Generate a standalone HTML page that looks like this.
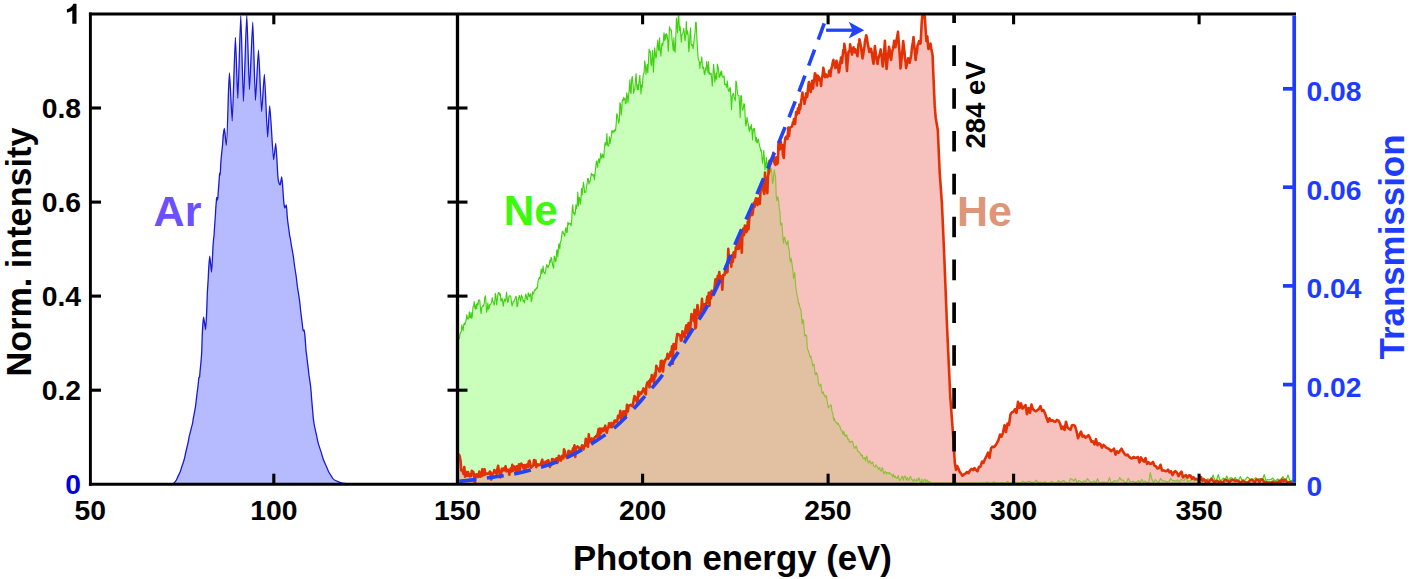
<!DOCTYPE html>
<html><head><meta charset="utf-8"><title>HHG spectra</title>
<style>
html,body{margin:0;padding:0;background:#fff;}
body{width:1412px;height:579px;overflow:hidden;}
svg{display:block;}
text{font-family:"Liberation Sans",sans-serif;font-weight:bold;}
</style></head><body>
<svg width="1412" height="579" viewBox="0 0 1412 579">
<defs><clipPath id="cp"><rect x="90" y="14" width="1205" height="470.2"/></clipPath></defs>
<rect width="1412" height="579" fill="#fff"/>
<g clip-path="url(#cp)">
<path d="M173.3,483.4C174.1,483.4 176.4,480.6 177.2,478.2C178.0,475.8 180.3,472.9 181.1,469.2C181.9,465.5 184.2,461.4 185.0,456.2C185.8,451.0 188.1,443.9 188.9,438.1C189.4,434.5 190.8,431.2 191.3,428.0C191.5,426.8 192.0,426.0 192.2,424.8C192.3,424.1 192.6,423.5 192.7,422.5C193.4,415.8 195.4,410.0 196.1,401.8C196.6,395.8 198.1,387.0 198.6,380.0C198.7,378.9 198.9,378.0 199.0,377.5C199.1,376.6 199.6,378.2 199.7,375.9C200.1,369.0 201.4,360.6 201.8,350.0C201.9,348.5 202.0,341.3 202.1,339.5C202.4,330.4 203.3,317.1 203.6,317.1C204.0,317.1 205.2,329.5 205.6,329.5C205.9,329.5 207.0,304.9 207.3,293.9C207.5,287.5 208.1,282.3 208.3,277.3C208.6,269.8 209.5,256.2 209.8,256.2C210.1,256.2 211.2,272.1 211.5,272.1C211.8,272.1 212.6,255.8 212.9,248.3C213.0,245.1 213.4,242.3 213.5,240.0C213.6,237.7 214.0,237.3 214.1,234.6C214.4,227.8 215.3,218.7 215.6,211.3C215.8,206.8 216.3,202.2 216.5,199.0C216.6,197.6 216.8,197.5 216.9,197.5C217.0,197.5 217.3,200.0 217.4,200.0C217.5,200.0 217.9,198.2 218.0,195.8C218.3,190.2 219.1,181.9 219.4,176.0C219.5,174.3 219.7,173.0 219.8,173.0C219.9,173.0 220.1,175.0 220.2,175.0C220.3,175.0 220.6,167.0 220.7,164.8C221.1,156.2 222.3,149.2 222.7,142.7C223.0,137.1 224.1,128.5 224.4,128.5C224.8,128.5 225.9,145.3 226.3,145.3C226.7,145.3 227.8,114.3 228.2,100.0C228.5,90.2 229.2,73.0 229.5,73.0C230.0,73.0 231.7,121.0 232.2,121.0C232.8,121.0 234.8,37.5 235.4,37.5C235.9,37.5 237.3,98.3 237.8,98.3C238.4,98.3 240.2,15.7 240.8,15.7C241.3,15.7 242.9,101.5 243.4,101.5C244.1,101.5 246.1,15.2 246.8,15.2C247.3,15.2 248.9,89.5 249.4,89.5C250.1,89.5 252.1,22.2 252.8,22.2C253.3,22.2 254.9,100.4 255.4,100.4C256.0,100.4 257.9,50.2 258.5,50.2C259.1,50.2 261.0,111.5 261.6,111.5C262.2,111.5 263.8,74.5 264.4,74.5C265.0,74.5 267.0,136.9 267.6,136.9C268.0,136.9 269.3,105.8 269.7,105.8C270.5,105.8 272.8,159.6 273.6,159.6C274.0,159.6 275.4,143.4 275.8,143.4C276.2,143.4 277.4,169.2 277.8,175.5C278.3,183.0 279.7,184.9 280.2,184.9C280.5,184.9 281.4,176.8 281.7,176.8C282.0,176.8 283.0,190.4 283.3,195.8C283.6,200.9 284.5,208.2 284.8,208.2C285.1,208.2 286.1,205.0 286.4,205.0C286.6,205.0 287.0,213.5 287.2,216.0C287.7,223.3 289.0,229.2 289.5,234.6C289.7,237.2 290.4,237.8 290.6,240.0C291.3,246.5 293.2,253.3 293.9,260.7C294.5,267.2 296.2,274.5 296.8,281.5C297.5,289.7 299.5,297.4 300.2,306.3C300.7,312.6 302.1,321.2 302.6,327.0C302.8,329.4 303.4,331.0 303.6,331.0C303.7,331.0 304.1,330.0 304.2,330.0C304.5,330.0 305.5,342.5 305.8,347.8C306.1,352.5 306.9,356.0 307.2,360.0C307.5,363.7 308.2,367.2 308.5,370.7C309.0,377.7 310.6,382.9 311.1,391.5C311.5,398.5 312.8,412.0 313.2,417.4C314.0,427.5 316.3,432.6 317.1,438.1C318.1,445.5 321.3,451.0 322.3,456.2C323.3,461.4 326.5,465.5 327.5,469.2C328.5,472.8 331.6,476.3 332.6,478.2C333.9,480.6 337.8,481.3 339.1,482.1C340.7,483.1 345.3,483.6 346.9,483.6 L346.9,484.2 L173.3,484.2 Z" fill="#b6baff" stroke="none"/>
<path d="M173.3,483.4C174.1,483.4 176.4,480.6 177.2,478.2C178.0,475.8 180.3,472.9 181.1,469.2C181.9,465.5 184.2,461.4 185.0,456.2C185.8,451.0 188.1,443.9 188.9,438.1C189.4,434.5 190.8,431.2 191.3,428.0C191.5,426.8 192.0,426.0 192.2,424.8C192.3,424.1 192.6,423.5 192.7,422.5C193.4,415.8 195.4,410.0 196.1,401.8C196.6,395.8 198.1,387.0 198.6,380.0C198.7,378.9 198.9,378.0 199.0,377.5C199.1,376.6 199.6,378.2 199.7,375.9C200.1,369.0 201.4,360.6 201.8,350.0C201.9,348.5 202.0,341.3 202.1,339.5C202.4,330.4 203.3,317.1 203.6,317.1C204.0,317.1 205.2,329.5 205.6,329.5C205.9,329.5 207.0,304.9 207.3,293.9C207.5,287.5 208.1,282.3 208.3,277.3C208.6,269.8 209.5,256.2 209.8,256.2C210.1,256.2 211.2,272.1 211.5,272.1C211.8,272.1 212.6,255.8 212.9,248.3C213.0,245.1 213.4,242.3 213.5,240.0C213.6,237.7 214.0,237.3 214.1,234.6C214.4,227.8 215.3,218.7 215.6,211.3C215.8,206.8 216.3,202.2 216.5,199.0C216.6,197.6 216.8,197.5 216.9,197.5C217.0,197.5 217.3,200.0 217.4,200.0C217.5,200.0 217.9,198.2 218.0,195.8C218.3,190.2 219.1,181.9 219.4,176.0C219.5,174.3 219.7,173.0 219.8,173.0C219.9,173.0 220.1,175.0 220.2,175.0C220.3,175.0 220.6,167.0 220.7,164.8C221.1,156.2 222.3,149.2 222.7,142.7C223.0,137.1 224.1,128.5 224.4,128.5C224.8,128.5 225.9,145.3 226.3,145.3C226.7,145.3 227.8,114.3 228.2,100.0C228.5,90.2 229.2,73.0 229.5,73.0C230.0,73.0 231.7,121.0 232.2,121.0C232.8,121.0 234.8,37.5 235.4,37.5C235.9,37.5 237.3,98.3 237.8,98.3C238.4,98.3 240.2,15.7 240.8,15.7C241.3,15.7 242.9,101.5 243.4,101.5C244.1,101.5 246.1,15.2 246.8,15.2C247.3,15.2 248.9,89.5 249.4,89.5C250.1,89.5 252.1,22.2 252.8,22.2C253.3,22.2 254.9,100.4 255.4,100.4C256.0,100.4 257.9,50.2 258.5,50.2C259.1,50.2 261.0,111.5 261.6,111.5C262.2,111.5 263.8,74.5 264.4,74.5C265.0,74.5 267.0,136.9 267.6,136.9C268.0,136.9 269.3,105.8 269.7,105.8C270.5,105.8 272.8,159.6 273.6,159.6C274.0,159.6 275.4,143.4 275.8,143.4C276.2,143.4 277.4,169.2 277.8,175.5C278.3,183.0 279.7,184.9 280.2,184.9C280.5,184.9 281.4,176.8 281.7,176.8C282.0,176.8 283.0,190.4 283.3,195.8C283.6,200.9 284.5,208.2 284.8,208.2C285.1,208.2 286.1,205.0 286.4,205.0C286.6,205.0 287.0,213.5 287.2,216.0C287.7,223.3 289.0,229.2 289.5,234.6C289.7,237.2 290.4,237.8 290.6,240.0C291.3,246.5 293.2,253.3 293.9,260.7C294.5,267.2 296.2,274.5 296.8,281.5C297.5,289.7 299.5,297.4 300.2,306.3C300.7,312.6 302.1,321.2 302.6,327.0C302.8,329.4 303.4,331.0 303.6,331.0C303.7,331.0 304.1,330.0 304.2,330.0C304.5,330.0 305.5,342.5 305.8,347.8C306.1,352.5 306.9,356.0 307.2,360.0C307.5,363.7 308.2,367.2 308.5,370.7C309.0,377.7 310.6,382.9 311.1,391.5C311.5,398.5 312.8,412.0 313.2,417.4C314.0,427.5 316.3,432.6 317.1,438.1C318.1,445.5 321.3,451.0 322.3,456.2C323.3,461.4 326.5,465.5 327.5,469.2C328.5,472.8 331.6,476.3 332.6,478.2C333.9,480.6 337.8,481.3 339.1,482.1C340.7,483.1 345.3,483.6 346.9,483.6" fill="none" stroke="#1a1ad0" stroke-width="1.3" stroke-linejoin="round"/>
<path d="M457.5,349.2 L458.1,343.1 L458.7,338.8 L459.4,338.8 L460.0,334.1 L460.6,332.5 L461.2,332.0 L461.8,324.9 L462.5,328.4 L463.1,330.6 L463.7,325.0 L464.3,323.0 L464.9,324.6 L465.6,322.2 L466.2,319.7 L466.8,314.9 L467.4,318.0 L468.0,319.3 L468.7,318.1 L469.3,311.7 L469.9,317.6 L470.5,317.6 L471.1,312.4 L471.8,318.4 L472.4,315.4 L473.0,306.5 L473.6,306.5 L474.2,301.6 L474.9,308.2 L475.5,308.8 L476.1,304.4 L476.7,308.9 L477.3,303.0 L478.0,305.0 L478.6,300.3 L479.2,299.9 L479.8,300.5 L480.4,308.0 L481.1,313.7 L481.7,307.3 L482.3,307.0 L482.9,305.6 L483.5,306.1 L484.2,303.1 L484.8,297.4 L485.4,295.7 L486.0,302.2 L486.6,312.2 L487.3,309.1 L487.9,302.8 L488.5,309.2 L489.1,308.1 L489.7,304.5 L490.4,304.7 L491.0,303.6 L491.6,302.2 L492.2,297.6 L492.8,301.4 L493.5,302.5 L494.1,305.1 L494.7,301.8 L495.3,293.3 L495.9,295.9 L496.6,304.8 L497.2,300.7 L497.8,294.6 L498.4,292.6 L499.0,292.5 L499.7,295.3 L500.3,293.8 L500.9,301.1 L501.5,300.2 L502.1,298.1 L502.8,303.3 L503.4,306.1 L504.0,300.4 L504.6,299.0 L505.2,301.4 L505.9,299.0 L506.5,292.0 L507.1,297.1 L507.7,302.5 L508.3,301.4 L509.0,296.0 L509.6,295.9 L510.2,295.9 L510.8,296.2 L511.4,302.1 L512.1,305.9 L512.7,303.5 L513.3,301.5 L513.9,301.8 L514.5,299.8 L515.2,298.4 L515.8,296.4 L516.4,297.4 L517.0,306.4 L517.6,306.2 L518.3,299.6 L518.9,297.0 L519.5,295.5 L520.1,299.0 L520.7,301.3 L521.4,294.7 L522.0,297.3 L522.6,297.0 L523.2,301.3 L523.8,300.4 L524.5,302.8 L525.1,298.0 L525.7,294.0 L526.3,295.9 L526.9,299.4 L527.6,299.5 L528.2,292.7 L528.8,294.3 L529.4,296.7 L530.0,295.1 L530.7,293.8 L531.3,301.7 L531.9,299.3 L532.5,291.8 L533.1,294.1 L533.8,293.3 L534.4,289.8 L535.0,290.5 L535.6,290.0 L536.2,287.9 L536.9,288.7 L537.5,286.4 L538.1,280.8 L538.7,278.8 L539.3,277.6 L540.0,278.8 L540.6,274.9 L541.2,268.9 L541.8,273.5 L542.4,271.6 L543.1,266.0 L543.7,272.2 L544.3,272.3 L544.9,273.8 L545.5,271.8 L546.2,266.9 L546.8,264.5 L547.4,266.2 L548.0,267.9 L548.6,265.2 L549.3,264.9 L549.9,260.1 L550.5,262.1 L551.1,257.4 L551.7,258.4 L552.4,264.0 L553.0,266.3 L553.6,268.3 L554.2,256.0 L554.8,256.7 L555.5,261.8 L556.1,260.2 L556.7,250.6 L557.3,249.9 L557.9,256.9 L558.6,245.1 L559.2,243.7 L559.8,249.0 L560.4,241.5 L561.0,240.8 L561.7,235.8 L562.3,231.8 L562.9,231.1 L563.5,233.9 L564.1,233.9 L564.8,236.3 L565.4,229.6 L566.0,227.3 L566.6,232.5 L567.2,232.2 L567.9,222.1 L568.5,224.7 L569.1,223.4 L569.7,223.1 L570.3,223.5 L571.0,225.8 L571.6,221.7 L572.2,209.0 L572.8,204.7 L573.4,213.4 L574.1,212.7 L574.7,214.9 L575.3,213.0 L575.9,204.8 L576.5,208.8 L577.2,203.7 L577.8,192.1 L578.4,206.2 L579.0,197.5 L579.6,197.6 L580.3,204.3 L580.9,200.2 L581.5,188.6 L582.1,195.0 L582.7,189.4 L583.4,182.2 L584.0,185.8 L584.6,192.5 L585.2,192.1 L585.8,192.1 L586.5,186.5 L587.1,183.3 L587.7,178.4 L588.3,178.6 L588.9,184.0 L589.6,181.1 L590.2,181.3 L590.8,177.2 L591.4,173.2 L592.0,175.1 L592.7,174.3 L593.3,176.1 L593.9,174.8 L594.5,179.9 L595.1,173.3 L595.8,166.4 L596.4,161.0 L597.0,162.6 L597.6,167.4 L598.2,160.8 L598.9,158.7 L599.5,162.9 L600.1,159.3 L600.7,153.4 L601.3,158.3 L602.0,156.5 L602.6,154.0 L603.2,157.3 L603.8,157.8 L604.4,148.5 L605.1,142.3 L605.7,145.3 L606.3,144.7 L606.9,133.6 L607.5,144.2 L608.2,146.2 L608.8,145.5 L609.4,136.9 L610.0,143.4 L610.6,140.1 L611.3,136.4 L611.9,130.2 L612.5,131.9 L613.1,132.9 L613.7,130.6 L614.4,131.7 L615.0,129.3 L615.6,130.7 L616.2,123.4 L616.8,113.7 L617.5,115.2 L618.1,119.7 L618.7,123.1 L619.3,120.5 L619.9,102.7 L620.6,104.4 L621.2,115.2 L621.8,108.8 L622.4,99.5 L623.0,100.9 L623.7,97.4 L624.3,99.8 L624.9,98.2 L625.5,103.8 L626.1,103.0 L626.8,92.9 L627.4,96.4 L628.0,102.4 L628.6,94.6 L629.2,90.3 L629.9,79.7 L630.5,92.0 L631.1,93.6 L631.7,78.8 L632.3,76.5 L633.0,83.5 L633.6,93.1 L634.2,90.1 L634.8,89.4 L635.4,80.9 L636.1,73.6 L636.7,85.2 L637.3,89.6 L637.9,84.5 L638.5,89.8 L639.2,80.2 L639.8,75.2 L640.4,84.9 L641.0,93.9 L641.6,84.9 L642.3,87.2 L642.9,77.6 L643.5,74.0 L644.1,72.5 L644.7,60.7 L645.4,65.5 L646.0,74.4 L646.6,68.6 L647.2,64.3 L647.8,72.7 L648.5,60.6 L649.1,49.0 L649.7,52.5 L650.3,51.2 L650.9,64.1 L651.6,65.7 L652.2,53.9 L652.8,50.4 L653.4,72.1 L654.0,61.9 L654.7,47.9 L655.3,53.2 L655.9,58.2 L656.5,55.9 L657.1,46.5 L657.8,40.1 L658.4,49.4 L659.0,50.7 L659.6,37.7 L660.2,49.2 L660.9,56.1 L661.5,47.6 L662.1,43.2 L662.7,45.7 L663.3,40.9 L664.0,32.8 L664.6,40.5 L665.2,34.6 L665.8,39.3 L666.4,33.5 L667.1,35.2 L667.7,39.5 L668.3,51.3 L668.9,39.6 L669.5,26.7 L670.2,30.0 L670.8,29.4 L671.4,30.8 L672.0,38.9 L672.6,44.5 L673.3,50.8 L673.9,37.9 L674.5,50.3 L675.1,52.2 L675.7,40.4 L676.4,18.2 L677.0,24.2 L677.6,32.6 L678.2,17.0 L678.8,15.5 L679.5,30.5 L680.1,26.3 L680.7,33.9 L681.3,42.2 L681.9,34.5 L682.6,34.3 L683.2,31.7 L683.8,28.3 L684.4,34.0 L685.0,40.6 L685.7,35.7 L686.3,21.6 L686.9,34.2 L687.5,30.8 L688.1,34.5 L688.8,51.8 L689.4,46.8 L690.0,33.2 L690.6,27.8 L691.2,44.2 L691.9,45.8 L692.5,44.7 L693.1,48.9 L693.7,43.6 L694.3,38.1 L695.0,32.7 L695.6,22.6 L696.2,22.3 L696.8,36.5 L697.4,47.6 L698.1,57.4 L698.7,59.8 L699.3,61.7 L699.9,68.5 L700.5,62.3 L701.2,62.1 L701.8,56.7 L702.4,66.7 L703.0,68.7 L703.6,67.0 L704.3,73.9 L704.9,74.7 L705.5,67.7 L706.1,70.5 L706.7,61.5 L707.4,66.9 L708.0,72.6 L708.6,61.6 L709.2,74.2 L709.8,72.6 L710.5,74.7 L711.1,73.4 L711.7,78.9 L712.3,86.3 L712.9,75.1 L713.6,64.3 L714.2,70.9 L714.8,81.9 L715.4,78.3 L716.0,73.2 L716.7,79.4 L717.3,64.1 L717.9,66.1 L718.5,69.3 L719.1,77.3 L719.8,77.2 L720.4,71.8 L721.0,75.1 L721.6,71.1 L722.2,76.2 L722.9,77.1 L723.5,76.8 L724.1,75.9 L724.7,84.6 L725.3,84.0 L726.0,84.5 L726.6,87.1 L727.2,80.8 L727.8,86.1 L728.4,90.9 L729.1,91.4 L729.7,88.6 L730.3,87.6 L730.9,96.1 L731.5,109.5 L732.2,96.4 L732.8,94.3 L733.4,93.3 L734.0,96.9 L734.6,98.4 L735.3,100.7 L735.9,81.0 L736.5,82.7 L737.1,89.2 L737.7,94.6 L738.4,95.5 L739.0,95.6 L739.6,104.9 L740.2,117.4 L740.8,95.7 L741.5,96.1 L742.1,108.7 L742.7,110.2 L743.3,108.4 L743.9,103.6 L744.6,104.7 L745.2,117.1 L745.8,126.0 L746.4,123.6 L747.0,117.4 L747.7,121.5 L748.3,124.4 L748.9,129.5 L749.5,131.4 L750.1,126.5 L750.8,129.1 L751.4,124.6 L752.0,131.6 L752.6,139.9 L753.2,128.8 L753.9,130.6 L754.5,128.3 L755.1,135.5 L755.7,141.2 L756.3,137.3 L757.0,143.0 L757.6,141.7 L758.2,139.0 L758.8,141.5 L759.4,145.6 L760.1,147.5 L760.7,150.9 L761.3,149.9 L761.9,156.3 L762.5,163.1 L763.2,157.7 L763.8,150.3 L764.4,160.0 L765.0,169.7 L765.6,165.5 L766.3,157.3 L766.9,163.0 L767.5,174.5 L768.1,162.3 L768.7,165.5 L769.4,169.2 L770.0,165.6 L770.6,172.1 L771.2,168.5 L771.8,172.8 L772.5,183.4 L773.1,182.1 L773.7,175.4 L774.3,169.7 L774.9,173.8 L775.6,177.0 L776.2,195.9 L776.8,200.6 L777.4,196.7 L778.0,197.4 L778.7,201.6 L779.3,209.2 L779.9,210.6 L780.5,224.7 L781.1,225.2 L781.8,223.0 L782.4,230.6 L783.0,239.5 L783.6,243.3 L784.2,237.2 L784.9,237.7 L785.5,240.6 L786.1,243.5 L786.7,244.9 L787.3,242.1 L788.0,240.9 L788.6,248.6 L789.2,249.2 L789.8,258.8 L790.4,261.9 L791.1,258.1 L791.7,261.9 L792.3,266.0 L792.9,270.4 L793.5,278.4 L794.2,275.3 L794.8,272.5 L795.4,282.7 L796.0,288.5 L796.6,292.0 L797.3,296.9 L797.9,298.6 L798.5,303.9 L799.1,303.4 L799.7,306.7 L800.4,308.8 L801.0,309.6 L801.6,317.8 L802.2,324.0 L802.8,319.5 L803.5,320.7 L804.1,328.8 L804.7,336.0 L805.3,334.6 L805.9,335.7 L806.6,335.5 L807.2,347.1 L807.8,350.1 L808.4,350.5 L809.0,352.9 L809.7,355.6 L810.3,357.2 L810.9,356.2 L811.5,359.7 L812.1,361.6 L812.8,365.9 L813.4,364.5 L814.0,364.1 L814.6,369.5 L815.2,374.8 L815.9,374.7 L816.5,372.5 L817.1,374.4 L817.7,375.8 L818.3,382.6 L819.0,385.0 L819.6,386.0 L820.2,385.7 L820.8,384.0 L821.4,388.4 L822.1,393.3 L822.7,393.0 L823.3,391.8 L823.9,395.0 L824.5,394.7 L825.2,397.0 L825.8,396.7 L826.4,395.9 L827.0,400.5 L827.6,403.4 L828.3,407.9 L828.9,406.7 L829.5,406.4 L830.1,405.9 L830.7,404.7 L831.4,406.0 L832.0,411.8 L832.6,412.3 L833.2,416.1 L833.8,420.3 L834.5,418.4 L835.1,421.3 L835.7,421.8 L836.3,423.0 L836.9,422.5 L837.6,424.4 L838.2,423.2 L838.8,425.2 L839.4,425.9 L840.0,426.5 L840.7,429.3 L841.3,430.3 L841.9,430.5 L842.5,432.7 L843.1,434.4 L843.8,431.4 L844.4,433.5 L845.0,436.3 L845.6,434.8 L846.2,436.1 L846.9,435.1 L847.5,438.9 L848.1,439.5 L848.7,438.9 L849.3,442.0 L850.0,441.7 L850.6,442.5 L851.2,441.2 L851.8,441.3 L852.4,441.2 L853.1,443.1 L853.7,446.9 L854.3,447.4 L854.9,448.4 L855.5,446.7 L856.2,446.0 L856.8,447.5 L857.4,450.2 L858.0,451.5 L858.6,451.4 L859.3,452.8 L859.9,452.9 L860.5,453.1 L861.1,455.9 L861.7,454.9 L862.4,455.2 L863.0,458.7 L863.6,458.3 L864.2,458.4 L864.8,457.6 L865.5,460.8 L866.1,457.4 L866.7,456.1 L867.3,457.7 L867.9,462.1 L868.6,463.0 L869.2,461.7 L869.8,460.4 L870.4,462.4 L871.0,463.9 L871.7,463.2 L872.3,462.0 L872.9,462.5 L873.5,465.2 L874.1,466.7 L874.8,466.8 L875.4,466.7 L876.0,464.7 L876.6,466.3 L877.2,466.6 L877.9,467.6 L878.5,469.3 L879.1,468.5 L879.7,467.6 L880.3,470.3 L881.0,471.3 L881.6,470.0 L882.2,467.5 L882.8,469.0 L883.4,472.4 L884.1,473.9 L884.7,472.3 L885.3,471.4 L885.9,472.1 L886.5,474.1 L887.2,472.6 L887.8,472.7 L888.4,472.7 L889.0,473.8 L889.6,472.5 L890.3,473.9 L890.9,474.3 L891.5,474.2 L892.1,475.6 L892.7,477.0 L893.4,474.1 L894.0,475.7 L894.6,477.2 L895.2,476.0 L895.8,477.7 L896.5,477.6 L897.1,478.3 L897.7,477.0 L898.3,475.5 L898.9,478.1 L899.6,480.6 L900.2,479.8 L900.8,479.3 L901.4,478.0 L902.0,476.2 L902.7,477.1 L903.3,480.1 L903.9,477.3 L904.5,476.7 L905.1,476.1 L905.8,477.6 L906.4,480.0 L907.0,478.1 L907.6,477.8 L908.2,480.5 L908.9,480.1 L909.5,477.8 L910.1,477.1 L910.7,476.4 L911.3,479.2 L912.0,479.4 L912.6,480.6 L913.2,481.7 L913.8,479.9 L914.4,479.1 L915.1,480.8 L915.7,481.0 L916.3,480.9 L916.9,478.8 L917.5,480.6 L918.2,480.3 L918.8,477.7 L919.4,478.7 L920.0,481.0 L920.6,483.0 L921.3,481.9 L921.9,479.1 L922.5,482.6 L923.1,482.6 L923.7,480.8 L924.4,479.6 L925.0,479.1 L925.6,482.1 L926.2,481.7 L926.8,480.3 L927.5,480.1 L928.1,482.6 L928.7,481.5 L929.3,481.5 L929.9,481.9 L931.0,483.0 L932.7,483.0 L934.4,483.0 L936.1,482.9 L937.8,483.0 L939.5,483.0 L941.2,483.0 L942.9,483.0 L944.6,483.0 L946.3,483.0 L948.0,483.0 L949.7,483.0 L951.4,483.0 L953.1,483.0 L954.8,483.0 L956.5,482.8 L958.2,483.0 L959.9,483.0 L961.6,483.0 L963.3,483.0 L965.0,483.0 L966.7,483.0 L968.4,483.0 L970.1,483.0 L971.8,483.0 L973.5,483.0 L975.2,483.0 L976.9,483.0 L978.6,483.0 L980.3,483.0 L982.0,482.7 L983.7,483.0 L985.4,483.0 L987.1,482.1 L988.8,483.0 L990.5,483.0 L992.2,483.0 L993.9,481.7 L995.6,482.9 L997.3,483.0 L999.0,483.0 L1000.7,483.0 L1002.4,482.4 L1004.1,483.0 L1005.8,482.7 L1007.5,481.3 L1009.2,483.0 L1010.9,482.9 L1012.6,481.9 L1014.3,482.3 L1016.0,483.0 L1017.7,482.8 L1019.4,482.9 L1021.1,483.0 L1022.8,481.3 L1024.5,482.2 L1026.2,482.4 L1027.9,481.5 L1029.6,481.2 L1031.3,482.5 L1033.0,482.2 L1034.7,481.9 L1036.4,480.1 L1038.1,483.0 L1039.8,482.1 L1041.5,482.3 L1043.2,483.0 L1044.9,481.8 L1046.6,483.0 L1048.3,483.0 L1050.0,483.0 L1051.7,481.4 L1053.4,482.7 L1055.1,483.0 L1056.8,483.0 L1058.5,480.4 L1060.2,482.5 L1061.9,481.6 L1063.6,480.4 L1065.3,482.0 L1067.0,482.7 L1068.7,483.0 L1070.4,478.6 L1072.1,479.2 L1073.8,480.9 L1075.5,478.6 L1077.2,483.0 L1078.9,480.4 L1080.6,481.4 L1082.3,482.7 L1084.0,480.8 L1085.7,481.8 L1087.4,478.6 L1089.1,480.6 L1090.8,482.4 L1092.5,481.8 L1094.2,480.9 L1095.9,483.0 L1097.6,478.6 L1099.3,482.8 L1101.0,482.6 L1102.7,482.0 L1104.4,482.1 L1106.1,482.9 L1107.8,482.1 L1109.5,477.6 L1111.2,482.9 L1112.9,482.0 L1114.6,480.5 L1116.3,481.3 L1118.0,480.9 L1119.7,477.6 L1121.4,479.9 L1123.1,480.2 L1124.8,482.3 L1126.5,482.6 L1128.2,478.3 L1129.9,481.6 L1131.6,481.7 L1133.3,481.2 L1135.0,482.5 L1136.7,482.1 L1138.4,480.7 L1140.1,482.5 L1141.8,479.2 L1143.5,482.2 L1145.2,480.8 L1146.9,482.8 L1148.6,482.6 L1150.3,472.6 L1152.0,479.6 L1153.7,482.6 L1155.4,479.5 L1157.1,481.4 L1158.8,482.2 L1160.5,478.4 L1162.2,480.7 L1163.9,480.7 L1165.6,481.2 L1167.3,481.9 L1169.0,481.5 L1170.7,478.3 L1172.4,480.8 L1174.1,480.5 L1175.8,481.3 L1177.5,480.0 L1179.2,481.9 L1180.9,479.5 L1182.6,480.1 L1184.3,480.3 L1186.0,476.5 L1187.7,481.1 L1189.4,481.1 L1191.1,480.1 L1192.8,477.7 L1194.5,481.2 L1196.2,479.2 L1197.9,478.7 L1199.6,479.5 L1201.3,478.2 L1203.0,477.7 L1204.7,479.5 L1206.4,479.6 L1208.1,478.8 L1209.8,480.8 L1211.5,479.4 L1213.2,474.9 L1214.9,480.8 L1216.6,479.6 L1218.3,474.6 L1220.0,480.5 L1221.7,479.9 L1223.4,478.2 L1225.1,480.3 L1226.8,476.0 L1228.5,480.3 L1230.2,477.9 L1231.9,477.7 L1233.6,480.8 L1235.3,477.3 L1237.0,480.7 L1238.7,479.7 L1240.4,476.6 L1242.1,480.5 L1243.8,480.7 L1245.5,479.4 L1247.2,477.0 L1248.9,478.2 L1250.6,480.0 L1252.3,479.3 L1254.0,479.1 L1255.7,477.6 L1257.4,479.5 L1259.1,478.5 L1260.8,480.0 L1262.5,479.3 L1264.2,474.6 L1265.9,480.5 L1267.6,479.6 L1269.3,479.8 L1271.0,479.5 L1272.7,478.0 L1274.4,480.2 L1276.1,480.7 L1277.8,479.0 L1279.5,480.5 L1281.2,478.5 L1282.9,476.6 L1284.6,480.3 L1286.3,479.6 L1288.0,474.9 L1289.7,480.2 L1291.4,480.8 L1293.1,480.0 L1293.1,484.2 L457.5,484.2 Z" fill="#c9ffbb" stroke="none"/>
<path d="M458.3,456.0 L459.1,454.8 L459.8,456.4 L460.6,461.5 L461.3,470.5 L462.1,469.8 L462.8,471.7 L463.6,474.0 L464.3,467.0 L465.1,476.6 L465.8,471.9 L466.6,473.8 L467.3,475.7 L468.1,472.0 L468.8,474.9 L469.6,476.3 L470.3,474.6 L471.1,476.1 L471.8,470.9 L472.6,471.9 L473.3,471.9 L474.1,475.6 L474.8,483.8 L475.6,475.3 L476.3,474.2 L477.1,474.4 L477.8,476.9 L478.6,476.2 L479.3,471.6 L480.1,476.8 L480.8,474.3 L481.6,476.2 L482.3,469.2 L483.1,470.1 L483.8,475.2 L484.6,469.2 L485.3,474.4 L486.1,474.1 L486.8,473.5 L487.6,473.9 L488.3,473.5 L489.1,473.8 L489.8,471.5 L490.6,472.3 L491.3,479.5 L492.1,475.0 L492.8,473.6 L493.6,473.0 L494.3,470.1 L495.1,472.4 L495.8,471.2 L496.6,474.1 L497.3,469.4 L498.1,465.7 L498.8,470.1 L499.6,473.2 L500.3,477.5 L501.1,473.8 L501.8,468.8 L502.6,470.5 L503.3,468.5 L504.1,470.3 L504.8,468.3 L505.6,466.3 L506.3,471.4 L507.1,470.6 L507.8,469.6 L508.6,470.7 L509.3,474.8 L510.1,469.8 L510.8,468.4 L511.6,471.4 L512.3,464.9 L513.0,470.8 L513.8,466.8 L514.5,466.6 L515.3,468.7 L516.0,472.6 L516.8,466.3 L517.5,470.4 L518.3,468.8 L519.0,464.2 L519.8,469.9 L520.5,465.3 L521.3,463.5 L522.0,465.1 L522.8,465.1 L523.5,468.4 L524.3,465.0 L525.0,470.6 L525.8,467.2 L526.5,464.8 L527.3,464.4 L528.0,467.1 L528.8,461.2 L529.5,460.7 L530.3,464.0 L531.0,467.8 L531.8,466.6 L532.5,466.1 L533.3,465.3 L534.0,460.0 L534.8,464.6 L535.5,460.6 L536.3,467.1 L537.0,464.7 L537.8,464.3 L538.5,465.4 L539.3,464.9 L540.0,464.5 L540.8,464.6 L541.5,461.9 L542.3,459.7 L543.0,463.9 L543.8,466.6 L544.5,465.3 L545.3,461.9 L546.0,463.9 L546.8,461.0 L547.5,463.0 L548.3,460.3 L549.0,462.1 L549.8,466.9 L550.5,463.5 L551.3,465.2 L552.0,459.1 L552.8,459.1 L553.5,460.7 L554.3,462.0 L555.0,459.7 L555.8,462.6 L556.5,458.2 L557.3,463.0 L558.0,461.6 L558.8,455.8 L559.5,460.0 L560.3,457.6 L561.0,460.6 L561.8,456.1 L562.5,458.1 L563.3,458.5 L564.0,449.2 L564.8,451.2 L565.5,456.3 L566.3,455.2 L567.0,458.0 L567.8,455.4 L568.5,450.9 L569.3,455.0 L570.0,451.6 L570.8,452.7 L571.5,451.5 L572.3,453.5 L573.0,448.2 L573.8,448.7 L574.5,445.2 L575.3,457.0 L576.0,447.7 L576.8,447.6 L577.5,446.3 L578.3,447.3 L579.0,447.5 L579.8,450.0 L580.5,448.3 L581.3,448.3 L582.0,445.2 L582.8,446.2 L583.5,449.5 L584.3,445.5 L585.0,445.9 L585.8,438.7 L586.5,445.5 L587.3,444.2 L588.0,446.7 L588.8,434.4 L589.5,442.0 L590.3,441.0 L591.0,441.1 L591.8,438.4 L592.5,440.4 L593.3,441.3 L594.0,438.8 L594.8,437.3 L595.5,437.0 L596.3,435.8 L597.0,436.5 L597.8,433.6 L598.5,429.1 L599.3,438.7 L600.0,428.6 L600.8,433.0 L601.5,428.7 L602.3,431.2 L603.0,428.5 L603.8,430.8 L604.5,427.7 L605.3,425.7 L606.0,430.1 L606.8,432.7 L607.5,429.0 L608.3,427.7 L609.0,423.4 L609.8,425.9 L610.5,426.9 L611.3,422.9 L612.0,427.2 L612.8,423.6 L613.5,424.3 L614.3,421.0 L615.0,420.4 L615.8,422.1 L616.5,421.9 L617.3,421.0 L618.0,415.8 L618.8,415.9 L619.5,417.5 L620.3,410.7 L621.0,419.6 L621.8,416.4 L622.5,414.7 L623.3,411.4 L624.0,415.8 L624.8,411.4 L625.5,418.0 L626.3,412.1 L627.0,404.8 L627.8,411.5 L628.5,406.3 L629.3,405.4 L630.0,405.5 L630.8,404.9 L631.5,405.4 L632.3,406.2 L633.0,404.3 L633.8,399.2 L634.5,396.1 L635.3,397.1 L636.0,400.3 L636.8,401.3 L637.5,403.8 L638.3,391.7 L639.0,396.0 L639.8,394.0 L640.5,392.6 L641.3,393.7 L642.0,391.5 L642.8,390.6 L643.5,388.4 L644.3,391.4 L645.0,393.0 L645.8,394.4 L646.5,385.5 L647.3,382.6 L648.0,384.5 L648.8,381.2 L649.5,387.3 L650.3,379.2 L651.0,381.5 L651.8,375.0 L652.5,377.8 L653.3,378.8 L654.0,383.0 L654.8,373.3 L655.5,376.4 L656.3,365.7 L657.0,368.0 L657.8,368.5 L658.5,368.7 L659.3,371.4 L660.0,371.2 L660.8,361.1 L661.5,368.6 L662.3,360.7 L663.0,371.5 L663.8,364.1 L664.5,362.3 L665.3,359.7 L666.0,359.1 L666.8,358.0 L667.5,353.9 L668.3,358.8 L669.0,355.6 L669.8,356.4 L670.5,351.7 L671.3,353.7 L672.0,346.3 L672.8,363.8 L673.5,344.1 L674.3,344.1 L675.0,349.0 L675.8,349.0 L676.5,338.9 L677.3,334.0 L678.0,334.1 L678.8,334.8 L679.5,334.7 L680.3,336.4 L681.0,340.7 L681.8,339.9 L682.5,331.2 L683.3,335.4 L684.0,335.9 L684.8,337.3 L685.5,329.1 L686.3,325.3 L687.0,331.2 L687.8,333.7 L688.5,323.1 L689.3,333.7 L690.0,331.6 L690.8,321.2 L691.5,314.0 L692.3,317.5 L693.0,317.8 L693.8,321.1 L694.5,309.7 L695.3,328.4 L696.0,327.1 L696.8,311.5 L697.5,305.0 L698.3,312.3 L699.0,314.3 L699.8,317.9 L700.5,313.9 L701.3,308.5 L702.0,298.9 L702.8,310.3 L703.5,311.0 L704.3,304.4 L705.0,306.4 L705.8,305.1 L706.5,302.0 L707.3,296.5 L708.0,302.9 L708.8,292.7 L709.5,305.6 L710.3,292.6 L711.0,298.3 L711.8,290.7 L712.5,295.1 L713.3,290.7 L714.0,293.2 L714.8,284.9 L715.5,279.2 L716.3,284.9 L717.0,283.2 L717.8,275.7 L718.5,278.7 L719.3,272.0 L720.0,280.2 L720.8,276.3 L721.5,277.0 L722.3,289.7 L723.0,275.1 L723.8,275.0 L724.5,275.0 L725.3,269.5 L726.0,265.7 L726.8,272.5 L727.5,272.0 L728.3,248.7 L729.0,262.8 L729.8,260.4 L730.5,257.8 L731.3,266.7 L732.0,255.3 L732.8,262.0 L733.5,252.6 L734.3,252.1 L735.0,257.3 L735.8,247.4 L736.5,249.0 L737.3,241.7 L738.0,241.2 L738.8,248.8 L739.5,246.3 L740.3,234.2 L741.0,232.2 L741.8,252.7 L742.5,231.8 L743.3,228.6 L744.0,235.2 L744.8,225.6 L745.5,226.2 L746.3,232.1 L747.0,230.9 L747.8,221.6 L748.5,229.3 L749.3,218.2 L750.0,215.7 L750.8,215.3 L751.5,211.5 L752.3,214.9 L753.0,211.5 L753.8,202.8 L754.5,207.0 L755.3,200.5 L756.0,198.3 L756.8,199.3 L757.5,205.1 L758.3,198.5 L759.0,203.4 L759.8,203.7 L760.5,191.4 L761.3,185.9 L762.0,182.9 L762.8,188.4 L763.5,190.7 L764.3,193.9 L765.0,172.5 L765.8,186.1 L766.5,185.4 L767.3,193.2 L768.0,176.0 L768.8,172.8 L769.5,160.7 L770.3,164.3 L771.0,160.5 L771.8,159.7 L772.5,158.9 L773.3,152.9 L774.0,161.7 L774.8,163.6 L775.5,164.8 L776.3,157.2 L777.0,164.0 L777.8,162.6 L778.5,142.4 L779.3,149.9 L780.0,141.3 L780.8,141.7 L781.5,148.7 L782.3,145.0 L783.0,155.1 L783.8,157.9 L784.5,144.2 L785.3,138.1 L786.0,136.8 L786.8,136.2 L787.5,139.0 L788.3,127.6 L789.0,136.0 L789.8,128.1 L792.1,126.2 L792.9,122.5 L793.7,121.4 L794.0,119.0 L794.5,123.8 L795.0,124.1 L795.3,121.6 L796.1,112.0 L796.2,114.0 L796.9,114.5 L797.7,110.5 L798.0,108.2 L798.5,112.2 L799.0,112.9 L799.3,104.7 L800.1,109.3 L800.9,103.2 L801.7,98.0 L802.4,92.6 L802.5,94.0 L803.3,98.8 L804.1,98.2 L804.5,103.8 L804.9,100.8 L805.7,98.4 L806.0,93.5 L806.5,94.7 L807.0,97.1 L807.3,96.0 L808.1,88.1 L808.7,82.9 L808.9,82.1 L809.7,85.1 L810.5,90.7 L810.7,92.0 L811.3,87.2 L812.0,84.3 L812.1,80.9 L812.9,85.0 L813.0,88.5 L813.7,81.9 L814.5,77.2 L814.9,73.4 L815.3,73.5 L816.1,78.1 L816.9,85.4 L817.0,82.3 L817.7,75.6 L818.5,77.1 L818.5,76.6 L819.3,80.3 L820.1,78.7 L820.9,83.9 L821.1,86.0 L821.7,78.5 L822.5,75.8 L823.2,69.6 L823.3,67.7 L824.1,71.7 L824.9,77.1 L825.0,75.8 L825.7,74.2 L826.5,76.3 L827.3,76.6 L827.3,77.1 L828.1,75.9 L828.9,74.1 L829.0,71.0 L829.7,70.5 L830.5,76.1 L830.5,73.8 L831.3,68.9 L832.1,66.0 L832.9,61.7 L833.5,59.9 L833.7,64.8 L834.5,62.7 L835.0,66.3 L835.3,68.1 L836.1,63.6 L836.5,60.8 L836.9,61.8 L837.7,65.9 L838.5,70.1 L838.7,72.5 L839.3,70.8 L840.1,63.4 L840.9,59.1 L841.0,57.6 L841.7,63.2 L842.0,62.9 L842.5,57.5 L843.3,49.9 L844.1,49.6 L844.3,43.9 L844.9,47.4 L845.7,53.6 L846.5,64.6 L847.0,70.9 L847.3,65.5 L848.1,56.5 L848.5,51.7 L848.9,51.9 L849.7,50.1 L850.1,44.4 L850.5,46.8 L851.3,51.1 L852.0,54.6 L852.1,52.0 L852.9,52.2 L853.5,47.2 L853.7,49.1 L854.5,52.1 L855.3,49.3 L856.1,52.6 L856.3,51.3 L856.9,53.7 L857.5,56.3 L857.7,54.0 L858.5,43.9 L859.3,43.4 L859.4,39.2 L860.1,42.2 L860.9,45.9 L861.7,52.9 L862.5,58.4 L862.5,58.0 L863.3,54.2 L864.1,48.0 L864.5,46.2 L864.9,41.9 L865.7,38.4 L866.2,35.2 L866.5,36.0 L867.3,40.7 L868.1,45.3 L868.9,49.6 L869.3,52.0 L869.7,49.9 L870.5,51.2 L871.0,48.7 L871.3,50.2 L872.1,54.9 L872.9,60.3 L873.5,63.8 L873.7,61.8 L874.5,50.7 L874.9,46.0 L875.3,49.3 L876.0,55.0 L876.1,56.0 L876.9,60.7 L877.6,63.9 L877.7,62.3 L878.5,58.1 L879.0,56.1 L879.3,55.8 L880.1,52.3 L880.7,49.4 L880.9,51.6 L881.7,56.9 L882.5,64.0 L882.8,66.5 L883.3,61.3 L884.1,52.0 L884.9,40.8 L884.9,41.2 L885.7,53.4 L886.5,68.5 L886.6,69.0 L887.3,61.5 L888.1,55.1 L888.9,48.5 L889.0,46.7 L889.7,50.1 L890.5,57.3 L891.1,59.9 L891.3,58.4 L892.1,51.3 L892.5,50.5 L892.9,49.0 L893.7,44.5 L894.2,40.8 L894.5,43.1 L895.3,47.3 L895.5,46.9 L896.1,43.2 L896.9,38.1 L897.7,34.3 L898.0,31.8 L898.5,38.8 L899.3,49.3 L900.1,60.7 L900.5,68.4 L900.9,65.8 L901.7,57.0 L902.5,49.6 L903.2,41.0 L903.3,42.0 L904.1,49.1 L904.5,52.0 L904.9,57.8 L905.7,62.8 L906.1,68.0 L906.5,66.1 L907.3,62.4 L908.0,60.3 L908.1,58.2 L908.9,62.2 L909.7,62.8 L909.8,62.0 L910.5,58.7 L911.3,54.2 L912.1,46.7 L912.9,41.9 L913.5,37.1 L913.7,39.8 L914.5,47.4 L915.3,55.9 L915.6,60.0 L916.1,55.7 L916.9,51.4 L917.5,46.3 L917.7,45.0 L918.5,43.4 L919.1,41.2 L919.3,41.3 L920.1,43.7 L920.6,43.2 L920.9,38.5 L921.7,22.8 L922.2,16.4 L922.5,15.6 L923.3,15.6 L923.4,16.1 L924.1,17.8 L924.7,16.1 L924.9,18.0 L925.7,31.3 L926.4,41.0 L926.5,41.1 L927.3,36.2 L927.4,37.4 L928.1,46.5 L928.5,49.0 L928.9,47.7 L929.7,45.7 L930.5,45.0 L930.5,43.6 L931.3,48.9 L932.1,52.8 L932.6,55.4 L932.9,63.8 L933.7,82.6 L934.7,105.4 L935.7,117.9 L937.8,130.0 L939.7,172.7 L941.9,203.0 L944.0,250.0 L947.2,329.9 L950.3,397.3 L953.0,433.3 L954.8,462.5 L956.0,470.0 L957.2,466.0 L958.4,468.5 L959.5,471.4 L961.0,473.6 L962.5,475.8 L964.0,474.3 L965.5,473.6 L967.0,472.0 L968.5,473.2 L970.0,470.4 L971.5,468.9 L973.0,470.1 L974.5,468.1 L976.0,470.1 L977.5,471.3 L979.0,466.7 L980.5,466.7 L982.0,461.5 L983.5,462.8 L985.0,459.0 L986.5,456.2 L988.0,452.7 L989.5,457.9 L991.0,448.4 L992.5,446.7 L994.0,447.1 L995.5,445.3 L997.0,442.8 L998.5,439.8 L1000.0,434.6 L1001.5,436.7 L1003.0,432.6 L1004.5,425.3 L1006.0,431.9 L1007.5,423.5 L1009.0,424.8 L1010.5,414.3 L1012.0,412.3 L1013.5,411.7 L1015.0,409.1 L1016.5,412.9 L1018.0,401.9 L1019.5,408.0 L1021.0,403.4 L1022.5,408.6 L1024.0,407.1 L1025.5,405.0 L1027.0,414.2 L1028.5,408.0 L1030.0,412.7 L1031.5,404.6 L1033.0,409.3 L1034.5,410.6 L1036.0,411.3 L1037.5,410.1 L1039.0,408.9 L1040.5,406.2 L1042.0,410.8 L1043.5,410.1 L1045.0,413.2 L1046.5,417.8 L1048.0,421.9 L1049.5,418.3 L1051.0,420.8 L1052.5,420.3 L1054.0,421.4 L1055.5,421.8 L1057.0,419.9 L1058.5,420.6 L1060.0,423.5 L1061.5,428.9 L1063.0,426.5 L1064.5,429.9 L1066.0,421.8 L1067.5,427.4 L1069.0,428.7 L1070.5,429.8 L1072.0,425.2 L1073.5,425.0 L1075.0,426.0 L1076.5,431.0 L1078.0,438.3 L1079.5,434.8 L1081.0,431.6 L1082.5,436.6 L1084.0,435.6 L1085.5,437.6 L1087.0,436.6 L1088.5,435.1 L1090.0,437.9 L1091.5,441.8 L1093.0,441.4 L1094.5,444.4 L1096.0,439.2 L1097.5,445.3 L1099.0,443.4 L1100.5,444.4 L1102.0,447.6 L1103.5,444.8 L1105.0,446.3 L1106.5,447.8 L1108.0,448.4 L1109.5,449.4 L1111.0,451.1 L1112.5,450.1 L1114.0,448.7 L1115.5,454.6 L1117.0,451.3 L1118.5,452.8 L1120.0,450.7 L1121.5,448.7 L1123.0,451.5 L1124.5,453.8 L1126.0,455.3 L1127.5,454.6 L1129.0,456.8 L1130.5,457.9 L1132.0,458.4 L1133.5,457.0 L1135.0,457.7 L1136.5,457.7 L1138.0,457.0 L1139.5,462.3 L1141.0,457.4 L1142.5,460.4 L1144.0,461.6 L1145.5,458.1 L1147.0,463.8 L1148.5,462.2 L1150.0,464.0 L1151.5,463.5 L1153.0,461.9 L1154.5,465.7 L1156.0,466.2 L1157.5,468.4 L1159.0,468.1 L1160.5,464.8 L1162.0,470.4 L1163.5,470.4 L1165.0,471.0 L1166.5,471.1 L1168.0,469.6 L1169.5,472.3 L1171.0,471.2 L1172.5,475.1 L1174.0,472.2 L1175.5,471.2 L1177.0,472.8 L1178.5,476.1 L1180.0,473.3 L1181.5,471.7 L1183.0,477.4 L1184.5,476.0 L1186.0,475.2 L1187.5,477.5 L1189.0,475.4 L1190.5,475.5 L1192.0,479.0 L1193.5,477.2 L1195.0,479.1 L1196.5,478.8 L1198.0,480.3 L1199.5,479.6 L1201.0,477.1 L1202.5,480.9 L1204.0,479.5 L1205.5,481.6 L1207.0,480.7 L1208.5,482.6 L1210.0,480.5 L1211.5,478.6 L1213.0,480.9 L1214.5,482.2 L1216.0,481.1 L1217.5,480.9 L1219.0,482.6 L1220.5,481.4 L1222.0,482.6 L1223.5,481.8 L1225.0,479.6 L1226.5,480.3 L1228.0,481.2 L1229.5,482.1 L1231.0,480.5 L1232.5,479.7 L1234.0,480.3 L1235.5,481.0 L1237.0,480.5 L1238.5,480.9 L1240.0,482.6 L1241.5,482.1 L1243.0,480.6 L1244.5,481.7 L1246.0,482.6 L1247.5,482.6 L1249.0,481.6 L1250.5,479.9 L1252.0,479.5 L1253.5,481.3 L1255.0,481.7 L1256.5,479.6 L1258.0,480.0 L1259.5,481.8 L1261.0,479.3 L1262.5,479.5 L1264.0,481.8 L1265.5,482.6 L1267.0,482.3 L1268.5,482.6 L1270.0,482.6 L1271.5,482.6 L1273.0,481.6 L1274.5,482.6 L1276.0,482.6 L1277.5,482.6 L1279.0,480.9 L1280.5,482.5 L1282.0,479.5 L1283.5,481.5 L1285.0,479.5 L1286.5,481.4 L1288.0,482.6 L1289.5,482.1 L1291.0,482.6 L1292.5,482.1 L1292.5,484.2 L458.3,484.2 Z" fill="#f29891" fill-opacity="0.6" stroke="none"/>
<path d="M457.5,349.2 L458.1,343.1 L458.7,338.8 L459.4,338.8 L460.0,334.1 L460.6,332.5 L461.2,332.0 L461.8,324.9 L462.5,328.4 L463.1,330.6 L463.7,325.0 L464.3,323.0 L464.9,324.6 L465.6,322.2 L466.2,319.7 L466.8,314.9 L467.4,318.0 L468.0,319.3 L468.7,318.1 L469.3,311.7 L469.9,317.6 L470.5,317.6 L471.1,312.4 L471.8,318.4 L472.4,315.4 L473.0,306.5 L473.6,306.5 L474.2,301.6 L474.9,308.2 L475.5,308.8 L476.1,304.4 L476.7,308.9 L477.3,303.0 L478.0,305.0 L478.6,300.3 L479.2,299.9 L479.8,300.5 L480.4,308.0 L481.1,313.7 L481.7,307.3 L482.3,307.0 L482.9,305.6 L483.5,306.1 L484.2,303.1 L484.8,297.4 L485.4,295.7 L486.0,302.2 L486.6,312.2 L487.3,309.1 L487.9,302.8 L488.5,309.2 L489.1,308.1 L489.7,304.5 L490.4,304.7 L491.0,303.6 L491.6,302.2 L492.2,297.6 L492.8,301.4 L493.5,302.5 L494.1,305.1 L494.7,301.8 L495.3,293.3 L495.9,295.9 L496.6,304.8 L497.2,300.7 L497.8,294.6 L498.4,292.6 L499.0,292.5 L499.7,295.3 L500.3,293.8 L500.9,301.1 L501.5,300.2 L502.1,298.1 L502.8,303.3 L503.4,306.1 L504.0,300.4 L504.6,299.0 L505.2,301.4 L505.9,299.0 L506.5,292.0 L507.1,297.1 L507.7,302.5 L508.3,301.4 L509.0,296.0 L509.6,295.9 L510.2,295.9 L510.8,296.2 L511.4,302.1 L512.1,305.9 L512.7,303.5 L513.3,301.5 L513.9,301.8 L514.5,299.8 L515.2,298.4 L515.8,296.4 L516.4,297.4 L517.0,306.4 L517.6,306.2 L518.3,299.6 L518.9,297.0 L519.5,295.5 L520.1,299.0 L520.7,301.3 L521.4,294.7 L522.0,297.3 L522.6,297.0 L523.2,301.3 L523.8,300.4 L524.5,302.8 L525.1,298.0 L525.7,294.0 L526.3,295.9 L526.9,299.4 L527.6,299.5 L528.2,292.7 L528.8,294.3 L529.4,296.7 L530.0,295.1 L530.7,293.8 L531.3,301.7 L531.9,299.3 L532.5,291.8 L533.1,294.1 L533.8,293.3 L534.4,289.8 L535.0,290.5 L535.6,290.0 L536.2,287.9 L536.9,288.7 L537.5,286.4 L538.1,280.8 L538.7,278.8 L539.3,277.6 L540.0,278.8 L540.6,274.9 L541.2,268.9 L541.8,273.5 L542.4,271.6 L543.1,266.0 L543.7,272.2 L544.3,272.3 L544.9,273.8 L545.5,271.8 L546.2,266.9 L546.8,264.5 L547.4,266.2 L548.0,267.9 L548.6,265.2 L549.3,264.9 L549.9,260.1 L550.5,262.1 L551.1,257.4 L551.7,258.4 L552.4,264.0 L553.0,266.3 L553.6,268.3 L554.2,256.0 L554.8,256.7 L555.5,261.8 L556.1,260.2 L556.7,250.6 L557.3,249.9 L557.9,256.9 L558.6,245.1 L559.2,243.7 L559.8,249.0 L560.4,241.5 L561.0,240.8 L561.7,235.8 L562.3,231.8 L562.9,231.1 L563.5,233.9 L564.1,233.9 L564.8,236.3 L565.4,229.6 L566.0,227.3 L566.6,232.5 L567.2,232.2 L567.9,222.1 L568.5,224.7 L569.1,223.4 L569.7,223.1 L570.3,223.5 L571.0,225.8 L571.6,221.7 L572.2,209.0 L572.8,204.7 L573.4,213.4 L574.1,212.7 L574.7,214.9 L575.3,213.0 L575.9,204.8 L576.5,208.8 L577.2,203.7 L577.8,192.1 L578.4,206.2 L579.0,197.5 L579.6,197.6 L580.3,204.3 L580.9,200.2 L581.5,188.6 L582.1,195.0 L582.7,189.4 L583.4,182.2 L584.0,185.8 L584.6,192.5 L585.2,192.1 L585.8,192.1 L586.5,186.5 L587.1,183.3 L587.7,178.4 L588.3,178.6 L588.9,184.0 L589.6,181.1 L590.2,181.3 L590.8,177.2 L591.4,173.2 L592.0,175.1 L592.7,174.3 L593.3,176.1 L593.9,174.8 L594.5,179.9 L595.1,173.3 L595.8,166.4 L596.4,161.0 L597.0,162.6 L597.6,167.4 L598.2,160.8 L598.9,158.7 L599.5,162.9 L600.1,159.3 L600.7,153.4 L601.3,158.3 L602.0,156.5 L602.6,154.0 L603.2,157.3 L603.8,157.8 L604.4,148.5 L605.1,142.3 L605.7,145.3 L606.3,144.7 L606.9,133.6 L607.5,144.2 L608.2,146.2 L608.8,145.5 L609.4,136.9 L610.0,143.4 L610.6,140.1 L611.3,136.4 L611.9,130.2 L612.5,131.9 L613.1,132.9 L613.7,130.6 L614.4,131.7 L615.0,129.3 L615.6,130.7 L616.2,123.4 L616.8,113.7 L617.5,115.2 L618.1,119.7 L618.7,123.1 L619.3,120.5 L619.9,102.7 L620.6,104.4 L621.2,115.2 L621.8,108.8 L622.4,99.5 L623.0,100.9 L623.7,97.4 L624.3,99.8 L624.9,98.2 L625.5,103.8 L626.1,103.0 L626.8,92.9 L627.4,96.4 L628.0,102.4 L628.6,94.6 L629.2,90.3 L629.9,79.7 L630.5,92.0 L631.1,93.6 L631.7,78.8 L632.3,76.5 L633.0,83.5 L633.6,93.1 L634.2,90.1 L634.8,89.4 L635.4,80.9 L636.1,73.6 L636.7,85.2 L637.3,89.6 L637.9,84.5 L638.5,89.8 L639.2,80.2 L639.8,75.2 L640.4,84.9 L641.0,93.9 L641.6,84.9 L642.3,87.2 L642.9,77.6 L643.5,74.0 L644.1,72.5 L644.7,60.7 L645.4,65.5 L646.0,74.4 L646.6,68.6 L647.2,64.3 L647.8,72.7 L648.5,60.6 L649.1,49.0 L649.7,52.5 L650.3,51.2 L650.9,64.1 L651.6,65.7 L652.2,53.9 L652.8,50.4 L653.4,72.1 L654.0,61.9 L654.7,47.9 L655.3,53.2 L655.9,58.2 L656.5,55.9 L657.1,46.5 L657.8,40.1 L658.4,49.4 L659.0,50.7 L659.6,37.7 L660.2,49.2 L660.9,56.1 L661.5,47.6 L662.1,43.2 L662.7,45.7 L663.3,40.9 L664.0,32.8 L664.6,40.5 L665.2,34.6 L665.8,39.3 L666.4,33.5 L667.1,35.2 L667.7,39.5 L668.3,51.3 L668.9,39.6 L669.5,26.7 L670.2,30.0 L670.8,29.4 L671.4,30.8 L672.0,38.9 L672.6,44.5 L673.3,50.8 L673.9,37.9 L674.5,50.3 L675.1,52.2 L675.7,40.4 L676.4,18.2 L677.0,24.2 L677.6,32.6 L678.2,17.0 L678.8,15.5 L679.5,30.5 L680.1,26.3 L680.7,33.9 L681.3,42.2 L681.9,34.5 L682.6,34.3 L683.2,31.7 L683.8,28.3 L684.4,34.0 L685.0,40.6 L685.7,35.7 L686.3,21.6 L686.9,34.2 L687.5,30.8 L688.1,34.5 L688.8,51.8 L689.4,46.8 L690.0,33.2 L690.6,27.8 L691.2,44.2 L691.9,45.8 L692.5,44.7 L693.1,48.9 L693.7,43.6 L694.3,38.1 L695.0,32.7 L695.6,22.6 L696.2,22.3 L696.8,36.5 L697.4,47.6 L698.1,57.4 L698.7,59.8 L699.3,61.7 L699.9,68.5 L700.5,62.3 L701.2,62.1 L701.8,56.7 L702.4,66.7 L703.0,68.7 L703.6,67.0 L704.3,73.9 L704.9,74.7 L705.5,67.7 L706.1,70.5 L706.7,61.5 L707.4,66.9 L708.0,72.6 L708.6,61.6 L709.2,74.2 L709.8,72.6 L710.5,74.7 L711.1,73.4 L711.7,78.9 L712.3,86.3 L712.9,75.1 L713.6,64.3 L714.2,70.9 L714.8,81.9 L715.4,78.3 L716.0,73.2 L716.7,79.4 L717.3,64.1 L717.9,66.1 L718.5,69.3 L719.1,77.3 L719.8,77.2 L720.4,71.8 L721.0,75.1 L721.6,71.1 L722.2,76.2 L722.9,77.1 L723.5,76.8 L724.1,75.9 L724.7,84.6 L725.3,84.0 L726.0,84.5 L726.6,87.1 L727.2,80.8 L727.8,86.1 L728.4,90.9 L729.1,91.4 L729.7,88.6 L730.3,87.6 L730.9,96.1 L731.5,109.5 L732.2,96.4 L732.8,94.3 L733.4,93.3 L734.0,96.9 L734.6,98.4 L735.3,100.7 L735.9,81.0 L736.5,82.7 L737.1,89.2 L737.7,94.6 L738.4,95.5 L739.0,95.6 L739.6,104.9 L740.2,117.4 L740.8,95.7 L741.5,96.1 L742.1,108.7 L742.7,110.2 L743.3,108.4 L743.9,103.6 L744.6,104.7 L745.2,117.1 L745.8,126.0 L746.4,123.6 L747.0,117.4 L747.7,121.5 L748.3,124.4 L748.9,129.5 L749.5,131.4 L750.1,126.5 L750.8,129.1 L751.4,124.6 L752.0,131.6 L752.6,139.9 L753.2,128.8 L753.9,130.6 L754.5,128.3 L755.1,135.5 L755.7,141.2 L756.3,137.3 L757.0,143.0 L757.6,141.7 L758.2,139.0 L758.8,141.5 L759.4,145.6 L760.1,147.5 L760.7,150.9 L761.3,149.9 L761.9,156.3 L762.5,163.1 L763.2,157.7 L763.8,150.3 L764.4,160.0 L765.0,169.7 L765.6,165.5 L766.3,157.3 L766.9,163.0 L767.5,174.5 L768.1,162.3 L768.7,165.5 L769.4,169.2 L770.0,165.6 L770.6,172.1" fill="none" stroke="#3fd00f" stroke-width="1.1" stroke-linejoin="round"/>
<path d="M770.6,172.1 L771.2,168.5 L771.8,172.8 L772.5,183.4 L773.1,182.1 L773.7,175.4 L774.3,169.7 L774.9,173.8 L775.6,177.0 L776.2,195.9 L776.8,200.6 L777.4,196.7 L778.0,197.4 L778.7,201.6 L779.3,209.2 L779.9,210.6 L780.5,224.7 L781.1,225.2 L781.8,223.0 L782.4,230.6 L783.0,239.5 L783.6,243.3 L784.2,237.2 L784.9,237.7 L785.5,240.6 L786.1,243.5 L786.7,244.9 L787.3,242.1 L788.0,240.9 L788.6,248.6 L789.2,249.2 L789.8,258.8 L790.4,261.9 L791.1,258.1 L791.7,261.9 L792.3,266.0 L792.9,270.4 L793.5,278.4 L794.2,275.3 L794.8,272.5 L795.4,282.7 L796.0,288.5 L796.6,292.0 L797.3,296.9 L797.9,298.6 L798.5,303.9 L799.1,303.4 L799.7,306.7 L800.4,308.8 L801.0,309.6 L801.6,317.8 L802.2,324.0 L802.8,319.5 L803.5,320.7 L804.1,328.8 L804.7,336.0 L805.3,334.6 L805.9,335.7 L806.6,335.5 L807.2,347.1 L807.8,350.1 L808.4,350.5 L809.0,352.9 L809.7,355.6 L810.3,357.2 L810.9,356.2 L811.5,359.7 L812.1,361.6 L812.8,365.9 L813.4,364.5 L814.0,364.1 L814.6,369.5 L815.2,374.8 L815.9,374.7 L816.5,372.5 L817.1,374.4 L817.7,375.8 L818.3,382.6 L819.0,385.0 L819.6,386.0 L820.2,385.7 L820.8,384.0 L821.4,388.4 L822.1,393.3 L822.7,393.0 L823.3,391.8 L823.9,395.0 L824.5,394.7 L825.2,397.0 L825.8,396.7 L826.4,395.9 L827.0,400.5 L827.6,403.4 L828.3,407.9 L828.9,406.7 L829.5,406.4 L830.1,405.9 L830.7,404.7 L831.4,406.0 L832.0,411.8 L832.6,412.3 L833.2,416.1 L833.8,420.3 L834.5,418.4 L835.1,421.3 L835.7,421.8 L836.3,423.0 L836.9,422.5 L837.6,424.4 L838.2,423.2 L838.8,425.2 L839.4,425.9 L840.0,426.5 L840.7,429.3 L841.3,430.3 L841.9,430.5 L842.5,432.7 L843.1,434.4 L843.8,431.4 L844.4,433.5 L845.0,436.3 L845.6,434.8 L846.2,436.1 L846.9,435.1 L847.5,438.9 L848.1,439.5 L848.7,438.9 L849.3,442.0 L850.0,441.7 L850.6,442.5 L851.2,441.2 L851.8,441.3 L852.4,441.2 L853.1,443.1 L853.7,446.9 L854.3,447.4 L854.9,448.4 L855.5,446.7 L856.2,446.0 L856.8,447.5 L857.4,450.2 L858.0,451.5 L858.6,451.4 L859.3,452.8 L859.9,452.9 L860.5,453.1 L861.1,455.9 L861.7,454.9 L862.4,455.2 L863.0,458.7 L863.6,458.3 L864.2,458.4 L864.8,457.6 L865.5,460.8 L866.1,457.4 L866.7,456.1 L867.3,457.7 L867.9,462.1 L868.6,463.0 L869.2,461.7 L869.8,460.4 L870.4,462.4 L871.0,463.9 L871.7,463.2 L872.3,462.0 L872.9,462.5 L873.5,465.2 L874.1,466.7 L874.8,466.8 L875.4,466.7 L876.0,464.7 L876.6,466.3 L877.2,466.6 L877.9,467.6 L878.5,469.3 L879.1,468.5 L879.7,467.6 L880.3,470.3 L881.0,471.3 L881.6,470.0 L882.2,467.5 L882.8,469.0 L883.4,472.4 L884.1,473.9 L884.7,472.3 L885.3,471.4 L885.9,472.1 L886.5,474.1 L887.2,472.6 L887.8,472.7 L888.4,472.7 L889.0,473.8 L889.6,472.5 L890.3,473.9 L890.9,474.3 L891.5,474.2 L892.1,475.6 L892.7,477.0 L893.4,474.1 L894.0,475.7 L894.6,477.2 L895.2,476.0 L895.8,477.7 L896.5,477.6 L897.1,478.3 L897.7,477.0 L898.3,475.5 L898.9,478.1 L899.6,480.6 L900.2,479.8 L900.8,479.3 L901.4,478.0 L902.0,476.2 L902.7,477.1 L903.3,480.1 L903.9,477.3 L904.5,476.7 L905.1,476.1 L905.8,477.6 L906.4,480.0 L907.0,478.1 L907.6,477.8 L908.2,480.5 L908.9,480.1 L909.5,477.8 L910.1,477.1 L910.7,476.4 L911.3,479.2 L912.0,479.4 L912.6,480.6 L913.2,481.7 L913.8,479.9 L914.4,479.1 L915.1,480.8 L915.7,481.0 L916.3,480.9 L916.9,478.8 L917.5,480.6 L918.2,480.3 L918.8,477.7 L919.4,478.7 L920.0,481.0 L920.6,483.0 L921.3,481.9 L921.9,479.1 L922.5,482.6 L923.1,482.6 L923.7,480.8 L924.4,479.6 L925.0,479.1 L925.6,482.1 L926.2,481.7 L926.8,480.3 L927.5,480.1 L928.1,482.6 L928.7,481.5 L929.3,481.5 L929.9,481.9 L931.0,483.0 L932.7,483.0 L934.4,483.0 L936.1,482.9 L937.8,483.0 L939.5,483.0 L941.2,483.0 L942.9,483.0 L944.6,483.0 L946.3,483.0 L948.0,483.0 L949.7,483.0 L951.4,483.0 L953.1,483.0 L954.8,483.0 L956.5,482.8 L958.2,483.0 L959.9,483.0 L961.6,483.0 L963.3,483.0 L965.0,483.0 L966.7,483.0 L968.4,483.0 L970.1,483.0 L971.8,483.0 L973.5,483.0 L975.2,483.0 L976.9,483.0 L978.6,483.0 L980.3,483.0 L982.0,482.7 L983.7,483.0 L985.4,483.0 L987.1,482.1 L988.8,483.0 L990.5,483.0 L992.2,483.0 L993.9,481.7 L995.6,482.9 L997.3,483.0 L999.0,483.0 L1000.7,483.0 L1002.4,482.4 L1004.1,483.0 L1005.8,482.7 L1007.5,481.3 L1009.2,483.0 L1010.9,482.9 L1012.6,481.9 L1014.3,482.3 L1016.0,483.0 L1017.7,482.8 L1019.4,482.9 L1021.1,483.0 L1022.8,481.3 L1024.5,482.2 L1026.2,482.4 L1027.9,481.5 L1029.6,481.2 L1031.3,482.5 L1033.0,482.2 L1034.7,481.9 L1036.4,480.1 L1038.1,483.0 L1039.8,482.1 L1041.5,482.3 L1043.2,483.0 L1044.9,481.8 L1046.6,483.0 L1048.3,483.0 L1050.0,483.0 L1051.7,481.4 L1053.4,482.7 L1055.1,483.0 L1056.8,483.0 L1058.5,480.4 L1060.2,482.5 L1061.9,481.6 L1063.6,480.4 L1065.3,482.0 L1067.0,482.7 L1068.7,483.0 L1070.4,478.6 L1072.1,479.2 L1073.8,480.9 L1075.5,478.6 L1077.2,483.0 L1078.9,480.4 L1080.6,481.4 L1082.3,482.7 L1084.0,480.8 L1085.7,481.8 L1087.4,478.6 L1089.1,480.6 L1090.8,482.4 L1092.5,481.8 L1094.2,480.9 L1095.9,483.0 L1097.6,478.6 L1099.3,482.8 L1101.0,482.6 L1102.7,482.0 L1104.4,482.1 L1106.1,482.9 L1107.8,482.1 L1109.5,477.6 L1111.2,482.9 L1112.9,482.0 L1114.6,480.5 L1116.3,481.3 L1118.0,480.9 L1119.7,477.6 L1121.4,479.9 L1123.1,480.2 L1124.8,482.3 L1126.5,482.6 L1128.2,478.3 L1129.9,481.6 L1131.6,481.7 L1133.3,481.2 L1135.0,482.5 L1136.7,482.1 L1138.4,480.7 L1140.1,482.5 L1141.8,479.2 L1143.5,482.2 L1145.2,480.8 L1146.9,482.8 L1148.6,482.6 L1150.3,472.6 L1152.0,479.6 L1153.7,482.6 L1155.4,479.5 L1157.1,481.4 L1158.8,482.2 L1160.5,478.4 L1162.2,480.7 L1163.9,480.7 L1165.6,481.2 L1167.3,481.9 L1169.0,481.5 L1170.7,478.3 L1172.4,480.8 L1174.1,480.5 L1175.8,481.3 L1177.5,480.0 L1179.2,481.9 L1180.9,479.5 L1182.6,480.1 L1184.3,480.3 L1186.0,476.5 L1187.7,481.1 L1189.4,481.1 L1191.1,480.1 L1192.8,477.7 L1194.5,481.2 L1196.2,479.2 L1197.9,478.7 L1199.6,479.5 L1201.3,478.2" fill="none" stroke="#8cbe37" stroke-width="1.1" stroke-linejoin="round"/>
<path d="M1203.0,477.7 L1204.7,479.5 L1206.4,479.6 L1208.1,478.8 L1209.8,480.8 L1211.5,479.4 L1213.2,474.9 L1214.9,480.8 L1216.6,479.6 L1218.3,474.6 L1220.0,480.5 L1221.7,479.9 L1223.4,478.2 L1225.1,480.3 L1226.8,476.0 L1228.5,480.3 L1230.2,477.9 L1231.9,477.7 L1233.6,480.8 L1235.3,477.3 L1237.0,480.7 L1238.7,479.7 L1240.4,476.6 L1242.1,480.5 L1243.8,480.7 L1245.5,479.4 L1247.2,477.0 L1248.9,478.2 L1250.6,480.0 L1252.3,479.3 L1254.0,479.1 L1255.7,477.6 L1257.4,479.5 L1259.1,478.5 L1260.8,480.0 L1262.5,479.3 L1264.2,474.6 L1265.9,480.5 L1267.6,479.6 L1269.3,479.8 L1271.0,479.5 L1272.7,478.0 L1274.4,480.2 L1276.1,480.7 L1277.8,479.0 L1279.5,480.5 L1281.2,478.5 L1282.9,476.6 L1284.6,480.3 L1286.3,479.6 L1288.0,474.9 L1289.7,480.2 L1291.4,480.8 L1293.1,480.0" fill="none" stroke="#3fd00f" stroke-width="1.1" stroke-linejoin="round"/>
<path d="M458.3,456.0 L459.1,454.8 L459.8,456.4 L460.6,461.5 L461.3,470.5 L462.1,469.8 L462.8,471.7 L463.6,474.0 L464.3,467.0 L465.1,476.6 L465.8,471.9 L466.6,473.8 L467.3,475.7 L468.1,472.0 L468.8,474.9 L469.6,476.3 L470.3,474.6 L471.1,476.1 L471.8,470.9 L472.6,471.9 L473.3,471.9 L474.1,475.6 L474.8,483.8 L475.6,475.3 L476.3,474.2 L477.1,474.4 L477.8,476.9 L478.6,476.2 L479.3,471.6 L480.1,476.8 L480.8,474.3 L481.6,476.2 L482.3,469.2 L483.1,470.1 L483.8,475.2 L484.6,469.2 L485.3,474.4 L486.1,474.1 L486.8,473.5 L487.6,473.9 L488.3,473.5 L489.1,473.8 L489.8,471.5 L490.6,472.3 L491.3,479.5 L492.1,475.0 L492.8,473.6 L493.6,473.0 L494.3,470.1 L495.1,472.4 L495.8,471.2 L496.6,474.1 L497.3,469.4 L498.1,465.7 L498.8,470.1 L499.6,473.2 L500.3,477.5 L501.1,473.8 L501.8,468.8 L502.6,470.5 L503.3,468.5 L504.1,470.3 L504.8,468.3 L505.6,466.3 L506.3,471.4 L507.1,470.6 L507.8,469.6 L508.6,470.7 L509.3,474.8 L510.1,469.8 L510.8,468.4 L511.6,471.4 L512.3,464.9 L513.0,470.8 L513.8,466.8 L514.5,466.6 L515.3,468.7 L516.0,472.6 L516.8,466.3 L517.5,470.4 L518.3,468.8 L519.0,464.2 L519.8,469.9 L520.5,465.3 L521.3,463.5 L522.0,465.1 L522.8,465.1 L523.5,468.4 L524.3,465.0 L525.0,470.6 L525.8,467.2 L526.5,464.8 L527.3,464.4 L528.0,467.1 L528.8,461.2 L529.5,460.7 L530.3,464.0 L531.0,467.8 L531.8,466.6 L532.5,466.1 L533.3,465.3 L534.0,460.0 L534.8,464.6 L535.5,460.6 L536.3,467.1 L537.0,464.7 L537.8,464.3 L538.5,465.4 L539.3,464.9 L540.0,464.5 L540.8,464.6 L541.5,461.9 L542.3,459.7 L543.0,463.9 L543.8,466.6 L544.5,465.3 L545.3,461.9 L546.0,463.9 L546.8,461.0 L547.5,463.0 L548.3,460.3 L549.0,462.1 L549.8,466.9 L550.5,463.5 L551.3,465.2 L552.0,459.1 L552.8,459.1 L553.5,460.7 L554.3,462.0 L555.0,459.7 L555.8,462.6 L556.5,458.2 L557.3,463.0 L558.0,461.6 L558.8,455.8 L559.5,460.0 L560.3,457.6 L561.0,460.6 L561.8,456.1 L562.5,458.1 L563.3,458.5 L564.0,449.2 L564.8,451.2 L565.5,456.3 L566.3,455.2 L567.0,458.0 L567.8,455.4 L568.5,450.9 L569.3,455.0 L570.0,451.6 L570.8,452.7 L571.5,451.5 L572.3,453.5 L573.0,448.2 L573.8,448.7 L574.5,445.2 L575.3,457.0 L576.0,447.7 L576.8,447.6 L577.5,446.3 L578.3,447.3 L579.0,447.5 L579.8,450.0 L580.5,448.3 L581.3,448.3 L582.0,445.2 L582.8,446.2 L583.5,449.5 L584.3,445.5 L585.0,445.9 L585.8,438.7 L586.5,445.5 L587.3,444.2 L588.0,446.7 L588.8,434.4 L589.5,442.0 L590.3,441.0 L591.0,441.1 L591.8,438.4 L592.5,440.4 L593.3,441.3 L594.0,438.8 L594.8,437.3 L595.5,437.0 L596.3,435.8 L597.0,436.5 L597.8,433.6 L598.5,429.1 L599.3,438.7 L600.0,428.6 L600.8,433.0 L601.5,428.7 L602.3,431.2 L603.0,428.5 L603.8,430.8 L604.5,427.7 L605.3,425.7 L606.0,430.1 L606.8,432.7 L607.5,429.0 L608.3,427.7 L609.0,423.4 L609.8,425.9 L610.5,426.9 L611.3,422.9 L612.0,427.2 L612.8,423.6 L613.5,424.3 L614.3,421.0 L615.0,420.4 L615.8,422.1 L616.5,421.9 L617.3,421.0 L618.0,415.8 L618.8,415.9 L619.5,417.5 L620.3,410.7 L621.0,419.6 L621.8,416.4 L622.5,414.7 L623.3,411.4 L624.0,415.8 L624.8,411.4 L625.5,418.0 L626.3,412.1 L627.0,404.8 L627.8,411.5 L628.5,406.3 L629.3,405.4 L630.0,405.5 L630.8,404.9 L631.5,405.4 L632.3,406.2 L633.0,404.3 L633.8,399.2 L634.5,396.1 L635.3,397.1 L636.0,400.3 L636.8,401.3 L637.5,403.8 L638.3,391.7 L639.0,396.0 L639.8,394.0 L640.5,392.6 L641.3,393.7 L642.0,391.5 L642.8,390.6 L643.5,388.4 L644.3,391.4 L645.0,393.0 L645.8,394.4 L646.5,385.5 L647.3,382.6 L648.0,384.5 L648.8,381.2 L649.5,387.3 L650.3,379.2 L651.0,381.5 L651.8,375.0 L652.5,377.8 L653.3,378.8 L654.0,383.0 L654.8,373.3 L655.5,376.4 L656.3,365.7 L657.0,368.0 L657.8,368.5 L658.5,368.7 L659.3,371.4 L660.0,371.2 L660.8,361.1 L661.5,368.6 L662.3,360.7 L663.0,371.5 L663.8,364.1 L664.5,362.3 L665.3,359.7 L666.0,359.1 L666.8,358.0 L667.5,353.9 L668.3,358.8 L669.0,355.6 L669.8,356.4 L670.5,351.7 L671.3,353.7 L672.0,346.3 L672.8,363.8 L673.5,344.1 L674.3,344.1 L675.0,349.0 L675.8,349.0 L676.5,338.9 L677.3,334.0 L678.0,334.1 L678.8,334.8 L679.5,334.7 L680.3,336.4 L681.0,340.7 L681.8,339.9 L682.5,331.2 L683.3,335.4 L684.0,335.9 L684.8,337.3 L685.5,329.1 L686.3,325.3 L687.0,331.2 L687.8,333.7 L688.5,323.1 L689.3,333.7 L690.0,331.6 L690.8,321.2 L691.5,314.0 L692.3,317.5 L693.0,317.8 L693.8,321.1 L694.5,309.7 L695.3,328.4 L696.0,327.1 L696.8,311.5 L697.5,305.0 L698.3,312.3 L699.0,314.3 L699.8,317.9 L700.5,313.9 L701.3,308.5 L702.0,298.9 L702.8,310.3 L703.5,311.0 L704.3,304.4 L705.0,306.4 L705.8,305.1 L706.5,302.0 L707.3,296.5 L708.0,302.9 L708.8,292.7 L709.5,305.6 L710.3,292.6 L711.0,298.3 L711.8,290.7 L712.5,295.1 L713.3,290.7 L714.0,293.2 L714.8,284.9 L715.5,279.2 L716.3,284.9 L717.0,283.2 L717.8,275.7 L718.5,278.7 L719.3,272.0 L720.0,280.2 L720.8,276.3 L721.5,277.0 L722.3,289.7 L723.0,275.1 L723.8,275.0 L724.5,275.0 L725.3,269.5 L726.0,265.7 L726.8,272.5 L727.5,272.0 L728.3,248.7 L729.0,262.8 L729.8,260.4 L730.5,257.8 L731.3,266.7 L732.0,255.3 L732.8,262.0 L733.5,252.6 L734.3,252.1 L735.0,257.3 L735.8,247.4 L736.5,249.0 L737.3,241.7 L738.0,241.2 L738.8,248.8 L739.5,246.3 L740.3,234.2 L741.0,232.2 L741.8,252.7 L742.5,231.8 L743.3,228.6 L744.0,235.2 L744.8,225.6 L745.5,226.2 L746.3,232.1 L747.0,230.9 L747.8,221.6 L748.5,229.3 L749.3,218.2 L750.0,215.7 L750.8,215.3 L751.5,211.5 L752.3,214.9 L753.0,211.5 L753.8,202.8 L754.5,207.0 L755.3,200.5 L756.0,198.3 L756.8,199.3 L757.5,205.1 L758.3,198.5 L759.0,203.4 L759.8,203.7 L760.5,191.4 L761.3,185.9 L762.0,182.9 L762.8,188.4 L763.5,190.7 L764.3,193.9 L765.0,172.5 L765.8,186.1 L766.5,185.4 L767.3,193.2 L768.0,176.0 L768.8,172.8 L769.5,160.7 L770.3,164.3 L771.0,160.5 L771.8,159.7 L772.5,158.9 L773.3,152.9 L774.0,161.7 L774.8,163.6 L775.5,164.8 L776.3,157.2 L777.0,164.0 L777.8,162.6 L778.5,142.4 L779.3,149.9 L780.0,141.3 L780.8,141.7 L781.5,148.7 L782.3,145.0 L783.0,155.1 L783.8,157.9 L784.5,144.2 L785.3,138.1 L786.0,136.8 L786.8,136.2 L787.5,139.0 L788.3,127.6 L789.0,136.0 L789.8,128.1 L792.1,126.2 L792.9,122.5 L793.7,121.4 L794.0,119.0 L794.5,123.8 L795.0,124.1 L795.3,121.6 L796.1,112.0 L796.2,114.0 L796.9,114.5 L797.7,110.5 L798.0,108.2 L798.5,112.2 L799.0,112.9 L799.3,104.7 L800.1,109.3 L800.9,103.2 L801.7,98.0 L802.4,92.6 L802.5,94.0 L803.3,98.8 L804.1,98.2 L804.5,103.8 L804.9,100.8 L805.7,98.4 L806.0,93.5 L806.5,94.7 L807.0,97.1 L807.3,96.0 L808.1,88.1 L808.7,82.9 L808.9,82.1 L809.7,85.1 L810.5,90.7 L810.7,92.0 L811.3,87.2 L812.0,84.3 L812.1,80.9 L812.9,85.0 L813.0,88.5 L813.7,81.9 L814.5,77.2 L814.9,73.4 L815.3,73.5 L816.1,78.1 L816.9,85.4 L817.0,82.3 L817.7,75.6 L818.5,77.1 L818.5,76.6 L819.3,80.3 L820.1,78.7 L820.9,83.9 L821.1,86.0 L821.7,78.5 L822.5,75.8 L823.2,69.6 L823.3,67.7 L824.1,71.7 L824.9,77.1 L825.0,75.8 L825.7,74.2 L826.5,76.3 L827.3,76.6 L827.3,77.1 L828.1,75.9 L828.9,74.1 L829.0,71.0 L829.7,70.5 L830.5,76.1 L830.5,73.8 L831.3,68.9 L832.1,66.0 L832.9,61.7 L833.5,59.9 L833.7,64.8 L834.5,62.7 L835.0,66.3 L835.3,68.1 L836.1,63.6 L836.5,60.8 L836.9,61.8 L837.7,65.9 L838.5,70.1 L838.7,72.5 L839.3,70.8 L840.1,63.4 L840.9,59.1 L841.0,57.6 L841.7,63.2 L842.0,62.9 L842.5,57.5 L843.3,49.9 L844.1,49.6 L844.3,43.9 L844.9,47.4 L845.7,53.6 L846.5,64.6 L847.0,70.9 L847.3,65.5 L848.1,56.5 L848.5,51.7 L848.9,51.9 L849.7,50.1 L850.1,44.4 L850.5,46.8 L851.3,51.1 L852.0,54.6 L852.1,52.0 L852.9,52.2 L853.5,47.2 L853.7,49.1 L854.5,52.1 L855.3,49.3 L856.1,52.6 L856.3,51.3 L856.9,53.7 L857.5,56.3 L857.7,54.0 L858.5,43.9 L859.3,43.4 L859.4,39.2 L860.1,42.2 L860.9,45.9 L861.7,52.9 L862.5,58.4 L862.5,58.0 L863.3,54.2 L864.1,48.0 L864.5,46.2 L864.9,41.9 L865.7,38.4 L866.2,35.2 L866.5,36.0 L867.3,40.7 L868.1,45.3 L868.9,49.6 L869.3,52.0 L869.7,49.9 L870.5,51.2 L871.0,48.7 L871.3,50.2 L872.1,54.9 L872.9,60.3 L873.5,63.8 L873.7,61.8 L874.5,50.7 L874.9,46.0 L875.3,49.3 L876.0,55.0 L876.1,56.0 L876.9,60.7 L877.6,63.9 L877.7,62.3 L878.5,58.1 L879.0,56.1 L879.3,55.8 L880.1,52.3 L880.7,49.4 L880.9,51.6 L881.7,56.9 L882.5,64.0 L882.8,66.5 L883.3,61.3 L884.1,52.0 L884.9,40.8 L884.9,41.2 L885.7,53.4 L886.5,68.5 L886.6,69.0 L887.3,61.5 L888.1,55.1 L888.9,48.5 L889.0,46.7 L889.7,50.1 L890.5,57.3 L891.1,59.9 L891.3,58.4 L892.1,51.3 L892.5,50.5 L892.9,49.0 L893.7,44.5 L894.2,40.8 L894.5,43.1 L895.3,47.3 L895.5,46.9 L896.1,43.2 L896.9,38.1 L897.7,34.3 L898.0,31.8 L898.5,38.8 L899.3,49.3 L900.1,60.7 L900.5,68.4 L900.9,65.8 L901.7,57.0 L902.5,49.6 L903.2,41.0 L903.3,42.0 L904.1,49.1 L904.5,52.0 L904.9,57.8 L905.7,62.8 L906.1,68.0 L906.5,66.1 L907.3,62.4 L908.0,60.3 L908.1,58.2 L908.9,62.2 L909.7,62.8 L909.8,62.0 L910.5,58.7 L911.3,54.2 L912.1,46.7 L912.9,41.9 L913.5,37.1 L913.7,39.8 L914.5,47.4 L915.3,55.9 L915.6,60.0 L916.1,55.7 L916.9,51.4 L917.5,46.3 L917.7,45.0 L918.5,43.4 L919.1,41.2 L919.3,41.3 L920.1,43.7 L920.6,43.2 L920.9,38.5 L921.7,22.8 L922.2,16.4 L922.5,15.6 L923.3,15.6 L923.4,16.1 L924.1,17.8 L924.7,16.1 L924.9,18.0 L925.7,31.3 L926.4,41.0 L926.5,41.1 L927.3,36.2 L927.4,37.4 L928.1,46.5 L928.5,49.0 L928.9,47.7 L929.7,45.7 L930.5,45.0 L930.5,43.6 L931.3,48.9 L932.1,52.8 L932.6,55.4 L932.9,63.8 L933.7,82.6 L934.7,105.4 L935.7,117.9 L937.8,130.0 L939.7,172.7 L941.9,203.0 L944.0,250.0 L947.2,329.9 L950.3,397.3 L953.0,433.3 L954.8,462.5 L956.0,470.0 L957.2,466.0 L958.4,468.5 L959.5,471.4 L961.0,473.6 L962.5,475.8 L964.0,474.3 L965.5,473.6 L967.0,472.0 L968.5,473.2 L970.0,470.4 L971.5,468.9 L973.0,470.1 L974.5,468.1 L976.0,470.1 L977.5,471.3 L979.0,466.7 L980.5,466.7 L982.0,461.5 L983.5,462.8 L985.0,459.0 L986.5,456.2 L988.0,452.7 L989.5,457.9 L991.0,448.4 L992.5,446.7 L994.0,447.1 L995.5,445.3 L997.0,442.8 L998.5,439.8 L1000.0,434.6 L1001.5,436.7 L1003.0,432.6 L1004.5,425.3 L1006.0,431.9 L1007.5,423.5 L1009.0,424.8 L1010.5,414.3 L1012.0,412.3 L1013.5,411.7 L1015.0,409.1 L1016.5,412.9 L1018.0,401.9 L1019.5,408.0 L1021.0,403.4 L1022.5,408.6 L1024.0,407.1 L1025.5,405.0 L1027.0,414.2 L1028.5,408.0 L1030.0,412.7 L1031.5,404.6 L1033.0,409.3 L1034.5,410.6 L1036.0,411.3 L1037.5,410.1 L1039.0,408.9 L1040.5,406.2 L1042.0,410.8 L1043.5,410.1 L1045.0,413.2 L1046.5,417.8 L1048.0,421.9 L1049.5,418.3 L1051.0,420.8 L1052.5,420.3 L1054.0,421.4 L1055.5,421.8 L1057.0,419.9 L1058.5,420.6 L1060.0,423.5 L1061.5,428.9 L1063.0,426.5 L1064.5,429.9 L1066.0,421.8 L1067.5,427.4 L1069.0,428.7 L1070.5,429.8 L1072.0,425.2 L1073.5,425.0 L1075.0,426.0 L1076.5,431.0 L1078.0,438.3 L1079.5,434.8 L1081.0,431.6 L1082.5,436.6 L1084.0,435.6 L1085.5,437.6 L1087.0,436.6 L1088.5,435.1 L1090.0,437.9 L1091.5,441.8 L1093.0,441.4 L1094.5,444.4 L1096.0,439.2 L1097.5,445.3 L1099.0,443.4 L1100.5,444.4 L1102.0,447.6 L1103.5,444.8 L1105.0,446.3 L1106.5,447.8 L1108.0,448.4 L1109.5,449.4 L1111.0,451.1 L1112.5,450.1 L1114.0,448.7 L1115.5,454.6 L1117.0,451.3 L1118.5,452.8 L1120.0,450.7 L1121.5,448.7 L1123.0,451.5 L1124.5,453.8 L1126.0,455.3 L1127.5,454.6 L1129.0,456.8 L1130.5,457.9 L1132.0,458.4 L1133.5,457.0 L1135.0,457.7 L1136.5,457.7 L1138.0,457.0 L1139.5,462.3 L1141.0,457.4 L1142.5,460.4 L1144.0,461.6 L1145.5,458.1 L1147.0,463.8 L1148.5,462.2 L1150.0,464.0 L1151.5,463.5 L1153.0,461.9 L1154.5,465.7 L1156.0,466.2 L1157.5,468.4 L1159.0,468.1 L1160.5,464.8 L1162.0,470.4 L1163.5,470.4 L1165.0,471.0 L1166.5,471.1 L1168.0,469.6 L1169.5,472.3 L1171.0,471.2 L1172.5,475.1 L1174.0,472.2 L1175.5,471.2 L1177.0,472.8 L1178.5,476.1 L1180.0,473.3 L1181.5,471.7 L1183.0,477.4 L1184.5,476.0 L1186.0,475.2 L1187.5,477.5 L1189.0,475.4 L1190.5,475.5 L1192.0,479.0 L1193.5,477.2 L1195.0,479.1 L1196.5,478.8 L1198.0,480.3 L1199.5,479.6 L1201.0,477.1 L1202.5,480.9 L1204.0,479.5 L1205.5,481.6 L1207.0,480.7 L1208.5,482.6 L1210.0,480.5 L1211.5,478.6 L1213.0,480.9 L1214.5,482.2 L1216.0,481.1 L1217.5,480.9 L1219.0,482.6 L1220.5,481.4 L1222.0,482.6 L1223.5,481.8 L1225.0,479.6 L1226.5,480.3 L1228.0,481.2 L1229.5,482.1 L1231.0,480.5 L1232.5,479.7 L1234.0,480.3 L1235.5,481.0 L1237.0,480.5 L1238.5,480.9 L1240.0,482.6 L1241.5,482.1 L1243.0,480.6 L1244.5,481.7 L1246.0,482.6 L1247.5,482.6 L1249.0,481.6 L1250.5,479.9 L1252.0,479.5 L1253.5,481.3 L1255.0,481.7 L1256.5,479.6 L1258.0,480.0 L1259.5,481.8 L1261.0,479.3 L1262.5,479.5 L1264.0,481.8 L1265.5,482.6 L1267.0,482.3 L1268.5,482.6 L1270.0,482.6 L1271.5,482.6 L1273.0,481.6 L1274.5,482.6 L1276.0,482.6 L1277.5,482.6 L1279.0,480.9 L1280.5,482.5 L1282.0,479.5 L1283.5,481.5 L1285.0,479.5 L1286.5,481.4 L1288.0,482.6 L1289.5,482.1 L1291.0,482.6 L1292.5,482.1" fill="none" stroke="#e23205" stroke-width="2.6" stroke-linejoin="round"/>
<path d="M459.3,481.3C461.2,481.1 465.3,480.8 470.7,480.1C476.1,479.5 484.6,478.4 491.5,477.4C498.4,476.4 505.3,475.6 512.2,474.3C519.1,473.0 526.0,471.3 532.9,469.4C539.8,467.5 546.7,465.7 553.6,463.1C560.5,460.5 567.5,457.5 574.4,453.9C581.3,450.3 588.2,446.2 595.1,441.6C602.0,437.1 609.5,432.0 615.8,426.6C622.1,421.2 628.1,414.6 633.1,409.4C638.1,404.2 640.8,400.8 645.5,395.4C650.2,390.0 655.9,383.6 661.1,376.8C666.3,370.0 671.4,362.4 676.6,354.6C681.8,346.8 687.0,338.3 692.2,330.1C697.4,321.9 702.5,314.8 707.7,305.3C712.9,295.8 718.7,283.3 723.3,273.0C727.9,262.7 730.9,254.2 735.5,243.3C740.1,232.5 745.9,219.9 751.1,207.9C756.3,195.9 761.4,183.5 766.6,171.2C771.8,158.9 777.3,146.2 782.2,134.2C787.1,122.2 791.6,111.0 796.2,99.0C800.8,87.0 805.3,74.7 810.0,62.0C814.7,49.3 822.0,29.5 824.4,23.0" fill="none" stroke="#2244f6" stroke-width="3.6" stroke-dasharray="17.1 10.6"/>
<line x1="954.1" y1="2.5" x2="954.1" y2="484" stroke="#000" stroke-width="3.7" stroke-dasharray="20.6 22.24"/>
</g>
<line x1="826.1" y1="30.2" x2="853" y2="30.2" stroke="#2244f6" stroke-width="3.3"/><path d="M848.7,21.8 L864.2,30.3 L848.7,38.6 L852.6,30.3 Z" fill="#2244f6"/>
<g stroke="#000" stroke-width="3.1" fill="none">
<line x1="88.9" y1="14" x2="1296" y2="14"/>
<line x1="88.9" y1="484.2" x2="1296" y2="484.2"/>
<line x1="90.4" y1="12.5" x2="90.4" y2="485.7" stroke-width="2.9"/>
<line x1="457.5" y1="14" x2="457.5" y2="484.2" stroke-width="3.3"/>
<line x1="90" y1="390.2" x2="101" y2="390.2"/><line x1="447.5" y1="390.2" x2="467.5" y2="390.2"/><line x1="90" y1="296.1" x2="101" y2="296.1"/><line x1="447.5" y1="296.1" x2="467.5" y2="296.1"/><line x1="90" y1="202.1" x2="101" y2="202.1"/><line x1="447.5" y1="202.1" x2="467.5" y2="202.1"/><line x1="90" y1="108.0" x2="101" y2="108.0"/><line x1="447.5" y1="108.0" x2="467.5" y2="108.0"/><line x1="273.8" y1="14" x2="273.8" y2="24.3"/><line x1="273.8" y1="484.2" x2="273.8" y2="473.7"/><line x1="642.6" y1="14" x2="642.6" y2="24.3"/><line x1="642.6" y1="484.2" x2="642.6" y2="473.7"/><line x1="828.1" y1="14" x2="828.1" y2="24.3"/><line x1="828.1" y1="484.2" x2="828.1" y2="473.7"/><line x1="1013.6" y1="14" x2="1013.6" y2="24.3"/><line x1="1013.6" y1="484.2" x2="1013.6" y2="473.7"/><line x1="1199.1" y1="14" x2="1199.1" y2="24.3"/><line x1="1199.1" y1="484.2" x2="1199.1" y2="473.7"/>
</g>
<g stroke="#1e3cff" stroke-width="3.7" fill="none">
<line x1="1294.2" y1="15.5" x2="1294.2" y2="482.7"/>
<line x1="1283" y1="88.8" x2="1294" y2="88.8"/><line x1="1283" y1="187.2" x2="1294" y2="187.2"/><line x1="1283" y1="285.9" x2="1294" y2="285.9"/><line x1="1283" y1="384.6" x2="1294" y2="384.6"/>
</g>
<g font-size="28.3px" fill="#000"><text x="81" y="118.2" text-anchor="end">0.8</text><text x="81" y="212.3" text-anchor="end">0.6</text><text x="81" y="306.3" text-anchor="end">0.4</text><text x="81" y="400.4" text-anchor="end">0.2</text><path d="M76.5,3.7 L76.5,23.7 L72.3,23.7 L72.3,10.4 C70.9,11.4 69,12.1 66.9,12.4 L66.9,9.3 C69.9,8.5 72.3,6.5 73.3,3.7 Z" fill="#000"/><text x="90.3" y="519.9" text-anchor="middle">50</text><text x="273.8" y="519.9" text-anchor="middle">100</text><text x="457.5" y="519.9" text-anchor="middle">150</text><text x="642.6" y="519.9" text-anchor="middle">200</text><text x="827.8" y="519.9" text-anchor="middle">250</text><text x="1013.6" y="519.9" text-anchor="middle">300</text><text x="1199.1" y="519.9" text-anchor="middle">350</text></g>
<text x="81" y="494.4" text-anchor="end" font-size="28.3px" fill="#0000e0">0</text>
<g font-size="28.3px" fill="#1e3cff"><text x="1306.5" y="101.2">0.08</text><text x="1306.5" y="199.6">0.06</text><text x="1306.5" y="298.3">0.04</text><text x="1306.5" y="397.0">0.02</text><text x="1306.5" y="495.7">0</text></g>
<text x="732.4" y="570.2" text-anchor="middle" font-size="34.8px" fill="#000">Photon energy (eV)</text>
<text transform="translate(30.6,252) rotate(-90)" text-anchor="middle" font-size="34.2px" fill="#000">Norm. intensity</text>
<text transform="translate(1403.5,247) rotate(-90)" text-anchor="middle" font-size="34.9px" fill="#1e3cff">Transmission</text>
<text transform="translate(985,105) rotate(-90)" text-anchor="middle" font-size="27.5px" fill="#000">284 eV</text>
<text x="153.6" y="225.6" font-size="43px" fill="#6c50ff">Ar</text>
<text x="503.8" y="225.3" font-size="42.3px" fill="#3cfa0a">Ne</text>
<text x="957" y="225.8" font-size="43px" fill="#de9678">He</text>
</svg>
</body></html>
